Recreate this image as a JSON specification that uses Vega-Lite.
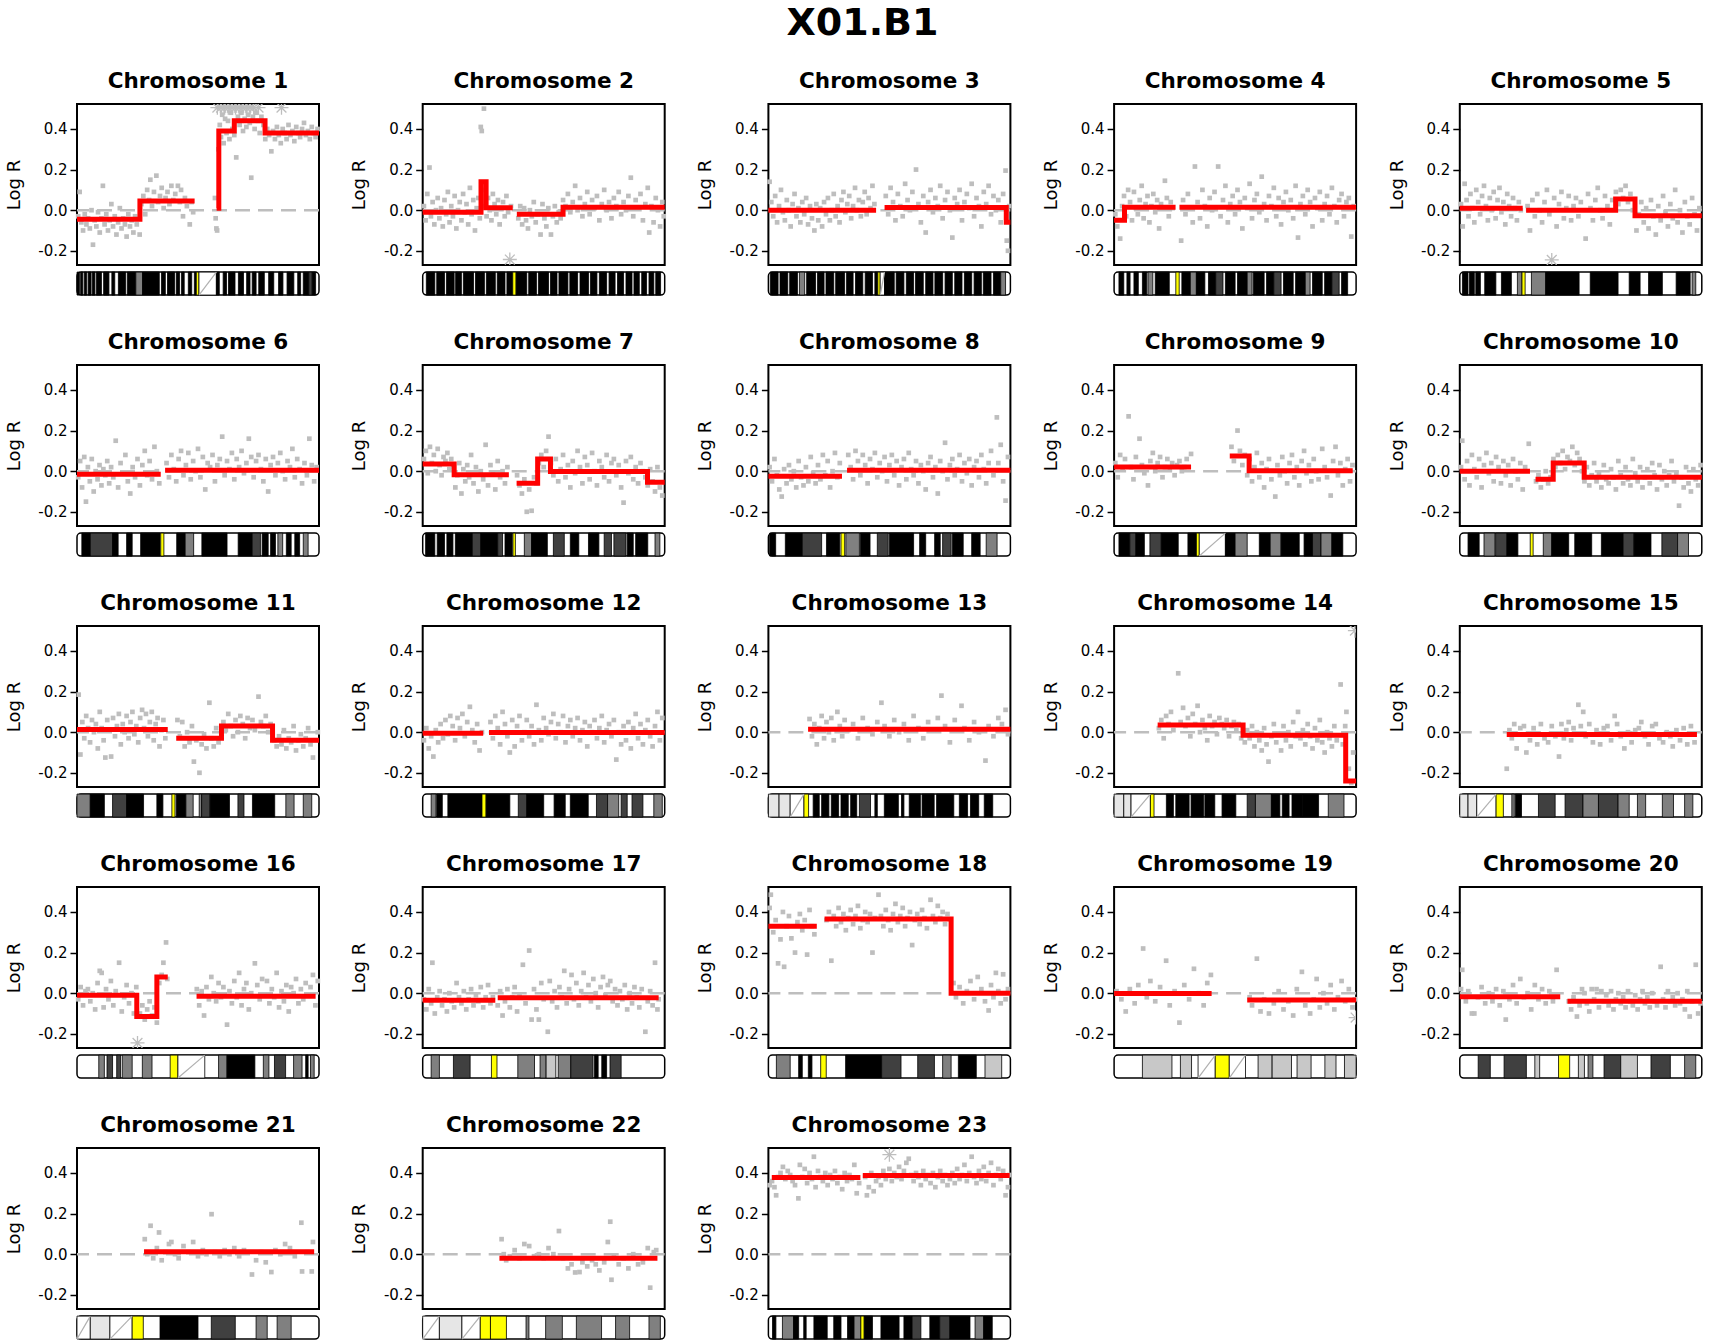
{
"$schema":"https://vega.github.io/schema/vega-lite/v6.json",
"background":"white",
"padding":{"left":4,"top":4,"right":10,"bottom":4},
"title":{"text":"X01.B1","font":"DejaVu Sans","fontSize":38,"fontWeight":"bold","color":"black","anchor":"middle","dx":4,"offset":27},
"data":{"values":[
{"c":1,"x":0,"x2":100,"t":"w"},{"c":1,"x":0,"x2":1,"t":"k"},{"c":1,"x":1.5,"x2":2.4,"t":"k"},{"c":1,"x":3,"x2":4,"t":"k"},{"c":1,"x":4.6,"x2":5.8,"t":"k"},{"c":1,"x":6.3,"x2":7.4,"t":"k"},{"c":1,"x":8,"x2":10.1,"t":"k"},{"c":1,"x":11,"x2":13.2,"t":"k"},{"c":1,"x":14.4,"x2":15.6,"t":"k"},{"c":1,"x":17.1,"x2":20.1,"t":"k"},{"c":1,"x":20.8,"x2":24.3,"t":"k"},{"c":1,"x":24.3,"x2":27.1,"t":"m"},{"c":1,"x":27.1,"x2":34,"t":"k"},{"c":1,"x":34.9,"x2":36.5,"t":"k"},{"c":1,"x":37.4,"x2":40.3,"t":"k"},{"c":1,"x":41,"x2":42.4,"t":"k"},{"c":1,"x":43.2,"x2":44.3,"t":"k"},{"c":1,"x":46,"x2":47.4,"t":"k"},{"c":1,"x":48.5,"x2":49.3,"t":"k"},{"c":1,"x":49.3,"x2":50.4,"t":"y"},{"c":1,"x":50.4,"x2":57.6,"t":"h"},{"c":1,"x":57.6,"x2":58.8,"t":"k"},{"c":1,"x":60.4,"x2":61.8,"t":"k"},{"c":1,"x":62.6,"x2":65.3,"t":"k"},{"c":1,"x":66.7,"x2":68.8,"t":"k"},{"c":1,"x":70.1,"x2":71.5,"t":"k"},{"c":1,"x":72.4,"x2":74,"t":"k"},{"c":1,"x":75.1,"x2":77.4,"t":"k"},{"c":1,"x":79.2,"x2":81.3,"t":"k"},{"c":1,"x":83.3,"x2":85.1,"t":"k"},{"c":1,"x":86.8,"x2":89.6,"t":"k"},{"c":1,"x":91.2,"x2":92.4,"t":"k"},{"c":1,"x":93.5,"x2":95.8,"t":"k"},{"c":1,"x":95.8,"x2":97.2,"t":"d"},{"c":1,"x":97.2,"x2":98.6,"t":"k"},
{"c":1,"a":1,"x":0,"s":-0.045},{"c":1,"a":1,"x":26,"s":0.045},{"c":1,"a":1,"x":48.6,"s":0.045},{"c":1,"a":2,"x":57.7,"s":0.01},{"c":1,"a":2,"x":58.6,"s":0.39},{"c":1,"a":2,"x":65,"s":0.44},{"c":1,"a":2,"x":77.7,"s":0.38},{"c":1,"a":2,"x":100,"s":0.38},
{"c":1,"x":0.5,"v":-0.03},{"c":1,"x":1.1,"v":0.09},{"c":1,"x":1.8,"v":-0.06},{"c":1,"x":2.5,"v":-0.1},{"c":1,"x":3.2,"v":-0.02},{"c":1,"x":3.9,"v":-0.07},{"c":1,"x":4.6,"v":-0.04},{"c":1,"x":5.3,"v":-0.09},{"c":1,"x":6,"v":0.0},{"c":1,"x":6.6,"v":-0.17},{"c":1,"x":7.3,"v":-0.05},{"c":1,"x":8,"v":-0.08},{"c":1,"x":8.7,"v":-0.01},{"c":1,"x":9.4,"v":-0.11},{"c":1,"x":10.1,"v":-0.04},{"c":1,"x":10.7,"v":0.12},{"c":1,"x":11.4,"v":-0.07},{"c":1,"x":12.1,"v":-0.02},{"c":1,"x":12.8,"v":-0.1},{"c":1,"x":13.5,"v":-0.05},{"c":1,"x":14.2,"v":0.03},{"c":1,"x":14.9,"v":-0.08},{"c":1,"x":15.6,"v":-0.03},{"c":1,"x":16.3,"v":-0.12},{"c":1,"x":17,"v":-0.06},{"c":1,"x":17.7,"v":0.01},{"c":1,"x":18.4,"v":-0.09},{"c":1,"x":19.1,"v":-0.04},{"c":1,"x":19.8,"v":-0.07},{"c":1,"x":20.5,"v":-0.13},{"c":1,"x":21.2,"v":-0.02},{"c":1,"x":21.9,"v":-0.08},{"c":1,"x":22.6,"v":-0.05},{"c":1,"x":23.3,"v":-0.11},{"c":1,"x":24,"v":-0.03},{"c":1,"x":24.7,"v":-0.07},{"c":1,"x":25.9,"v":-0.12},
{"c":1,"x":26.6,"v":0.03},{"c":1,"x":27.4,"v":0.07},{"c":1,"x":28.2,"v":-0.02},{"c":1,"x":29,"v":0.1},{"c":1,"x":29.8,"v":0.05},{"c":1,"x":30.3,"v":0.15},{"c":1,"x":31,"v":0.02},{"c":1,"x":31.8,"v":0.09},{"c":1,"x":32.8,"v":0.17},{"c":1,"x":33.5,"v":0.04},{"c":1,"x":34.3,"v":0.07},{"c":1,"x":35,"v":0.11},{"c":1,"x":35.8,"v":0.01},{"c":1,"x":36.6,"v":0.06},{"c":1,"x":37.4,"v":0.09},{"c":1,"x":38.2,"v":0.03},{"c":1,"x":39,"v":0.12},{"c":1,"x":39.8,"v":0.05},{"c":1,"x":40.6,"v":0.08},{"c":1,"x":41.7,"v":0.12},{"c":1,"x":42.5,"v":0.04},{"c":1,"x":43,"v":0.1},{"c":1,"x":43.8,"v":-0.03},{"c":1,"x":44.6,"v":0.06},{"c":1,"x":45.4,"v":0.02},{"c":1,"x":46.6,"v":-0.07},{"c":1,"x":47.4,"v":0.04},{"c":1,"x":48,"v":-0.01},
{"c":1,"x":57,"v":0.06},{"c":1,"x":57.3,"v":-0.04},{"c":1,"x":57.6,"v":-0.09},{"c":1,"x":57.9,"v":-0.1},{"c":1,"x":58.4,"v":0.3},{"c":1,"x":59,"v":0.42},{"c":1,"x":59.5,"v":0.36},{"c":1,"x":60,"v":0.47},{"c":1,"x":60.6,"v":0.33},{"c":1,"x":61.2,"v":0.45},{"c":1,"x":61.8,"v":0.38},{"c":1,"x":62.4,"v":0.44},{"c":1,"x":63,"v":0.35},{"c":1,"x":63.6,"v":0.48},{"c":1,"x":64.2,"v":0.4},{"c":1,"x":65,"v":0.37},{"c":1,"x":65.8,"v":0.26},{"c":1,"x":66.5,"v":0.46},{"c":1,"x":67.2,"v":0.42},{"c":1,"x":67.9,"v":0.48},{"c":1,"x":68.6,"v":0.39},{"c":1,"x":69.3,"v":0.45},{"c":1,"x":70,"v":0.41},{"c":1,"x":70.7,"v":0.47},{"c":1,"x":71.4,"v":0.43},{"c":1,"x":72,"v":0.16},{"c":1,"x":72.7,"v":0.46},{"c":1,"x":73.4,"v":0.4},{"c":1,"x":74.1,"v":0.48},{"c":1,"x":74.8,"v":0.44},{"c":1,"x":75.5,"v":0.38},{"c":1,"x":76.2,"v":0.46},{"c":1,"x":77,"v":0.42},{"c":1,"x":77.8,"v":0.35},{"c":1,"x":78.6,"v":0.4},{"c":1,"x":79.4,"v":0.37},{"c":1,"x":80.3,"v":0.29},{"c":1,"x":81,"v":0.39},{"c":1,"x":81.8,"v":0.35},{"c":1,"x":82.6,"v":0.41},{"c":1,"x":83.4,"v":0.37},{"c":1,"x":84.2,"v":0.33},{"c":1,"x":85,"v":0.4},{"c":1,"x":85.8,"v":0.38},{"c":1,"x":86.6,"v":0.35},{"c":1,"x":87.4,"v":0.42},{"c":1,"x":88.2,"v":0.37},{"c":1,"x":89,"v":0.39},{"c":1,"x":89.8,"v":0.34},{"c":1,"x":90.6,"v":0.41},{"c":1,"x":91.4,"v":0.38},{"c":1,"x":92.2,"v":0.36},{"c":1,"x":93,"v":0.4},{"c":1,"x":93.8,"v":0.43},{"c":1,"x":94.6,"v":0.37},{"c":1,"x":95.4,"v":0.39},{"c":1,"x":96.2,"v":0.35},{"c":1,"x":97,"v":0.41},{"c":1,"x":97.8,"v":0.38},{"c":1,"x":98.6,"v":0.36},{"c":1,"x":99.4,"v":0.4},
{"c":1,"x":58,"o":0.505},{"c":1,"x":59.5,"o":0.505},{"c":1,"x":61,"o":0.505},{"c":1,"x":62.5,"o":0.505},{"c":1,"x":64,"o":0.505},{"c":1,"x":65.5,"o":0.505},{"c":1,"x":67,"o":0.505},{"c":1,"x":68.5,"o":0.505},{"c":1,"x":70,"o":0.505},{"c":1,"x":71.5,"o":0.505},{"c":1,"x":73,"o":0.505},{"c":1,"x":75,"o":0.505},{"c":1,"x":84.5,"o":0.505},
{"c":2,"x":0,"x2":100,"t":"w"},{"c":2,"x":1.5,"x2":5,"t":"k"},{"c":2,"x":5.8,"x2":9,"t":"k"},{"c":2,"x":9.8,"x2":13,"t":"k"},{"c":2,"x":13.6,"x2":16,"t":"k"},{"c":2,"x":16.8,"x2":21,"t":"k"},{"c":2,"x":21.8,"x2":25.5,"t":"k"},{"c":2,"x":26.3,"x2":30,"t":"k"},{"c":2,"x":30.8,"x2":34,"t":"k"},{"c":2,"x":34.8,"x2":37.2,"t":"k"},{"c":2,"x":37.2,"x2":38.6,"t":"y"},{"c":2,"x":38.6,"x2":43,"t":"k"},{"c":2,"x":43.8,"x2":47,"t":"k"},{"c":2,"x":47.8,"x2":52,"t":"k"},{"c":2,"x":52.8,"x2":55.5,"t":"k"},{"c":2,"x":56.3,"x2":60,"t":"k"},{"c":2,"x":60.8,"x2":64,"t":"k"},{"c":2,"x":65,"x2":68.5,"t":"k"},{"c":2,"x":69.3,"x2":72,"t":"k"},{"c":2,"x":73,"x2":76,"t":"k"},{"c":2,"x":77,"x2":79.5,"t":"k"},{"c":2,"x":80.5,"x2":83,"t":"k"},{"c":2,"x":84,"x2":86.5,"t":"k"},{"c":2,"x":87.3,"x2":89.5,"t":"k"},{"c":2,"x":90.5,"x2":92.5,"t":"k"},{"c":2,"x":93.5,"x2":95.5,"t":"k"},{"c":2,"x":96.3,"x2":98.3,"t":"k"},
{"c":2,"a":1,"x":0,"s":-0.01},{"c":2,"a":1,"x":24.1,"s":0.14},{"c":2,"a":1,"x":26.2,"s":0.012},{"c":2,"a":1,"x":37.2,"s":0.012},{"c":2,"a":2,"x":38.9,"s":-0.02},{"c":2,"a":2,"x":58,"s":0.015},{"c":2,"a":2,"x":100,"s":0.015},
{"c":2,"x":0.5,"v":0.02},{"c":2,"x":1.2,"v":-0.05},{"c":2,"x":1.9,"v":0.08},{"c":2,"x":2.8,"v":0.21},{"c":2,"x":3.4,"v":-0.03},{"c":2,"x":4.1,"v":0.04},{"c":2,"x":4.8,"v":-0.07},{"c":2,"x":5.5,"v":0.0},{"c":2,"x":6.2,"v":0.06},{"c":2,"x":6.9,"v":-0.04},{"c":2,"x":7.6,"v":0.01},{"c":2,"x":8.3,"v":-0.08},{"c":2,"x":9,"v":0.05},{"c":2,"x":9.7,"v":-0.02},{"c":2,"x":10.4,"v":0.09},{"c":2,"x":11.1,"v":-0.06},{"c":2,"x":11.8,"v":0.02},{"c":2,"x":12.5,"v":-0.03},{"c":2,"x":13.2,"v":0.07},{"c":2,"x":13.9,"v":-0.09},{"c":2,"x":14.6,"v":0.0},{"c":2,"x":15.3,"v":0.04},{"c":2,"x":16,"v":-0.05},{"c":2,"x":16.7,"v":0.08},{"c":2,"x":17.4,"v":-0.01},{"c":2,"x":18.1,"v":0.03},{"c":2,"x":18.8,"v":-0.07},{"c":2,"x":19.5,"v":0.11},{"c":2,"x":20.2,"v":-0.02},{"c":2,"x":20.9,"v":0.05},{"c":2,"x":21.6,"v":-0.1},{"c":2,"x":22.3,"v":0.01},{"c":2,"x":23,"v":0.06},{"c":2,"x":23.6,"v":-0.04},{"c":2,"x":24,"v":0.41},{"c":2,"x":24.4,"v":0.39},{"c":2,"x":24.8,"v":0.02},{"c":2,"x":25.3,"v":0.5},{"c":2,"x":25.8,"v":0.1},{"c":2,"x":26.4,"v":-0.03},{"c":2,"x":27,"v":0.06},{"c":2,"x":27.7,"v":0.0},{"c":2,"x":28.4,"v":-0.05},{"c":2,"x":29,"v":0.08},{"c":2,"x":29.7,"v":0.03},{"c":2,"x":30.4,"v":-0.02},{"c":2,"x":31.1,"v":0.05},{"c":2,"x":31.8,"v":-0.07},{"c":2,"x":32.5,"v":0.01},{"c":2,"x":33.2,"v":0.04},{"c":2,"x":33.9,"v":-0.03},{"c":2,"x":34.6,"v":0.07},{"c":2,"x":35.3,"v":-0.01},{"c":2,"x":36.5,"v":0.02},
{"c":2,"x":39.5,"v":-0.04},{"c":2,"x":40.3,"v":0.02},{"c":2,"x":41.1,"v":-0.07},{"c":2,"x":41.9,"v":0.01},{"c":2,"x":42.7,"v":-0.05},{"c":2,"x":43.5,"v":-0.09},{"c":2,"x":44.3,"v":0.0},{"c":2,"x":45.1,"v":-0.03},{"c":2,"x":45.9,"v":0.04},{"c":2,"x":46.7,"v":-0.06},{"c":2,"x":47.5,"v":-0.02},{"c":2,"x":48.7,"v":-0.12},{"c":2,"x":49.5,"v":0.03},{"c":2,"x":50.3,"v":-0.04},{"c":2,"x":51.1,"v":-0.08},{"c":2,"x":51.9,"v":0.01},{"c":2,"x":53,"v":-0.12},{"c":2,"x":53.8,"v":-0.03},{"c":2,"x":54.6,"v":0.02},{"c":2,"x":55.4,"v":-0.06},{"c":2,"x":56.2,"v":-0.01},{"c":2,"x":57,"v":-0.04},{"c":2,"x":58,"v":0.05},{"c":2,"x":59,"v":0.02},{"c":2,"x":60,"v":0.08},{"c":2,"x":61,"v":-0.01},{"c":2,"x":62,"v":0.04},{"c":2,"x":63,"v":0.12},{"c":2,"x":64,"v":0.0},{"c":2,"x":65,"v":0.06},{"c":2,"x":66,"v":-0.03},{"c":2,"x":67,"v":0.03},{"c":2,"x":68,"v":0.09},{"c":2,"x":69,"v":-0.02},{"c":2,"x":70,"v":0.05},{"c":2,"x":71,"v":0.01},{"c":2,"x":72,"v":0.07},{"c":2,"x":73,"v":-0.05},{"c":2,"x":74,"v":0.03},{"c":2,"x":75,"v":0.1},{"c":2,"x":76,"v":0.0},{"c":2,"x":77,"v":0.04},{"c":2,"x":78,"v":-0.04},{"c":2,"x":79,"v":0.06},{"c":2,"x":80,"v":0.02},{"c":2,"x":81,"v":0.09},{"c":2,"x":82,"v":-0.02},{"c":2,"x":83,"v":0.04},{"c":2,"x":84,"v":0.0},{"c":2,"x":85,"v":0.07},{"c":2,"x":86,"v":0.16},{"c":2,"x":87,"v":-0.03},{"c":2,"x":88,"v":0.05},{"c":2,"x":89,"v":0.01},{"c":2,"x":90,"v":0.08},{"c":2,"x":91,"v":-0.05},{"c":2,"x":92,"v":0.03},{"c":2,"x":93,"v":0.11},{"c":2,"x":93.6,"v":-0.11},{"c":2,"x":94.5,"v":0.02},{"c":2,"x":95.4,"v":-0.06},{"c":2,"x":96.3,"v":0.06},{"c":2,"x":97.2,"v":0.0},{"c":2,"x":98.1,"v":-0.08},{"c":2,"x":99,"v":0.04},{"c":2,"x":99.6,"v":-0.03},
{"c":2,"x":36,"o":-0.243},
{"c":3,"x":0,"x2":100,"t":"w"},{"c":3,"x":0.8,"x2":4,"t":"k"},{"c":3,"x":4.8,"x2":8,"t":"k"},{"c":3,"x":8.8,"x2":12,"t":"k"},{"c":3,"x":12.8,"x2":15,"t":"m"},{"c":3,"x":15.8,"x2":19.5,"t":"k"},{"c":3,"x":20.3,"x2":23,"t":"k"},{"c":3,"x":23.8,"x2":27,"t":"k"},{"c":3,"x":27.8,"x2":31.5,"t":"k"},{"c":3,"x":32.3,"x2":35,"t":"k"},{"c":3,"x":36,"x2":39,"t":"k"},{"c":3,"x":40,"x2":43,"t":"k"},{"c":3,"x":44,"x2":45.2,"t":"k"},{"c":3,"x":45.2,"x2":46.2,"t":"y"},{"c":3,"x":46.2,"x2":48,"t":"h"},{"c":3,"x":48,"x2":52,"t":"k"},{"c":3,"x":52.8,"x2":56,"t":"k"},{"c":3,"x":57,"x2":60,"t":"k"},{"c":3,"x":60.8,"x2":64,"t":"k"},{"c":3,"x":65,"x2":68,"t":"k"},{"c":3,"x":68.8,"x2":72,"t":"k"},{"c":3,"x":73,"x2":76,"t":"k"},{"c":3,"x":77,"x2":80,"t":"k"},{"c":3,"x":81,"x2":84,"t":"k"},{"c":3,"x":85,"x2":88,"t":"k"},{"c":3,"x":88.8,"x2":92,"t":"k"},{"c":3,"x":93,"x2":96,"t":"k"},{"c":3,"x":96,"x2":98,"t":"m"},
{"c":3,"a":1,"x":0,"s":0.0},{"c":3,"a":1,"x":44.5,"s":0.0},{"c":3,"a":2,"x":48,"s":0.013},{"c":3,"a":2,"x":98.3,"s":-0.06},{"c":3,"a":2,"x":100,"s":-0.06},
{"c":3,"x":0.5,"v":0.14},{"c":3,"x":1.2,"v":0.04},{"c":3,"x":2,"v":-0.03},{"c":3,"x":2.8,"v":0.07},{"c":3,"x":3.6,"v":-0.06},{"c":3,"x":4.4,"v":0.02},{"c":3,"x":5.2,"v":0.1},{"c":3,"x":6,"v":-0.01},{"c":3,"x":6.8,"v":-0.05},{"c":3,"x":7.6,"v":0.05},{"c":3,"x":8.4,"v":0.0},{"c":3,"x":9.2,"v":-0.08},{"c":3,"x":10,"v":0.03},{"c":3,"x":10.8,"v":0.08},{"c":3,"x":11.6,"v":-0.03},{"c":3,"x":12.4,"v":0.01},{"c":3,"x":13.2,"v":-0.06},{"c":3,"x":14,"v":0.04},{"c":3,"x":14.8,"v":-0.02},{"c":3,"x":15.6,"v":0.06},{"c":3,"x":16.4,"v":-0.07},{"c":3,"x":17.2,"v":0.02},{"c":3,"x":18,"v":-0.04},{"c":3,"x":19,"v":-0.1},{"c":3,"x":19.8,"v":0.03},{"c":3,"x":20.6,"v":-0.05},{"c":3,"x":21.4,"v":0.01},{"c":3,"x":22.2,"v":-0.08},{"c":3,"x":23,"v":0.04},{"c":3,"x":23.8,"v":-0.02},{"c":3,"x":24.6,"v":0.06},{"c":3,"x":25.4,"v":-0.05},{"c":3,"x":26.2,"v":0.0},{"c":3,"x":27,"v":0.08},{"c":3,"x":27.8,"v":-0.03},{"c":3,"x":28.6,"v":0.02},{"c":3,"x":29.4,"v":-0.06},{"c":3,"x":30.2,"v":0.05},{"c":3,"x":31,"v":0.09},{"c":3,"x":31.8,"v":-0.01},{"c":3,"x":32.6,"v":0.03},{"c":3,"x":33.4,"v":0.07},{"c":3,"x":34.2,"v":-0.04},{"c":3,"x":35,"v":0.02},{"c":3,"x":35.8,"v":0.11},{"c":3,"x":36.6,"v":0.0},{"c":3,"x":37.4,"v":0.05},{"c":3,"x":38.2,"v":-0.03},{"c":3,"x":39,"v":0.04},{"c":3,"x":39.8,"v":0.09},{"c":3,"x":40.6,"v":-0.02},{"c":3,"x":41.4,"v":0.06},{"c":3,"x":42.2,"v":0.01},{"c":3,"x":43,"v":0.12},{"c":3,"x":43.8,"v":0.03},
{"c":3,"x":48.5,"v":0.07},{"c":3,"x":49.5,"v":-0.02},{"c":3,"x":50.5,"v":0.11},{"c":3,"x":51.5,"v":0.04},{"c":3,"x":52.5,"v":-0.05},{"c":3,"x":53.5,"v":0.08},{"c":3,"x":54.5,"v":0.02},{"c":3,"x":55.5,"v":-0.03},{"c":3,"x":56.5,"v":0.13},{"c":3,"x":57.5,"v":0.05},{"c":3,"x":58.5,"v":0.0},{"c":3,"x":59.5,"v":0.09},{"c":3,"x":61,"v":0.2},{"c":3,"x":62,"v":0.03},{"c":3,"x":63,"v":-0.06},{"c":3,"x":64,"v":0.07},{"c":3,"x":65,"v":-0.11},{"c":3,"x":66,"v":0.04},{"c":3,"x":67,"v":0.1},{"c":3,"x":68,"v":-0.01},{"c":3,"x":69,"v":0.06},{"c":3,"x":70,"v":0.02},{"c":3,"x":71,"v":0.12},{"c":3,"x":72,"v":-0.04},{"c":3,"x":73,"v":0.05},{"c":3,"x":74,"v":0.09},{"c":3,"x":75,"v":0.0},{"c":3,"x":76,"v":-0.135},{"c":3,"x":77,"v":0.06},{"c":3,"x":78,"v":0.03},{"c":3,"x":79,"v":0.1},{"c":3,"x":80,"v":-0.05},{"c":3,"x":81,"v":0.04},{"c":3,"x":82,"v":0.08},{"c":3,"x":83,"v":0.01},{"c":3,"x":84,"v":0.13},{"c":3,"x":85,"v":-0.03},{"c":3,"x":86,"v":0.06},{"c":3,"x":87,"v":0.02},{"c":3,"x":88,"v":-0.08},{"c":3,"x":89,"v":0.09},{"c":3,"x":90,"v":0.03},{"c":3,"x":91,"v":0.12},{"c":3,"x":92,"v":-0.02},{"c":3,"x":93,"v":0.07},{"c":3,"x":94,"v":0.0},{"c":3,"x":95,"v":0.05},{"c":3,"x":96,"v":-0.06},{"c":3,"x":97,"v":0.08},{"c":3,"x":98,"v":0.195},{"c":3,"x":98.5,"v":-0.15},{"c":3,"x":99,"v":-0.2},{"c":3,"x":99.5,"v":0.02},
{"c":4,"x":0,"x2":100,"t":"w"},{"c":4,"x":2,"x2":4,"t":"k"},{"c":4,"x":5.3,"x2":6.6,"t":"k"},{"c":4,"x":8.2,"x2":10,"t":"k"},{"c":4,"x":11.7,"x2":13.5,"t":"k"},{"c":4,"x":14,"x2":16,"t":"m"},{"c":4,"x":17,"x2":22.8,"t":"k"},{"c":4,"x":25.5,"x2":26.9,"t":"y"},{"c":4,"x":28,"x2":31.5,"t":"k"},{"c":4,"x":31.5,"x2":34,"t":"m"},{"c":4,"x":34,"x2":37.5,"t":"k"},{"c":4,"x":39,"x2":42,"t":"k"},{"c":4,"x":42,"x2":45,"t":"d"},{"c":4,"x":46,"x2":50,"t":"k"},{"c":4,"x":51,"x2":55,"t":"k"},{"c":4,"x":55,"x2":57,"t":"m"},{"c":4,"x":57.5,"x2":62,"t":"k"},{"c":4,"x":63,"x2":66,"t":"k"},{"c":4,"x":66,"x2":69,"t":"d"},{"c":4,"x":70,"x2":74,"t":"k"},{"c":4,"x":75,"x2":79,"t":"k"},{"c":4,"x":79,"x2":81,"t":"m"},{"c":4,"x":82,"x2":86,"t":"k"},{"c":4,"x":87,"x2":90,"t":"k"},{"c":4,"x":90,"x2":93,"t":"d"},{"c":4,"x":94,"x2":96.5,"t":"k"},
{"c":4,"a":1,"x":0,"s":-0.05},{"c":4,"a":1,"x":4.3,"s":0.015},{"c":4,"a":1,"x":25.4,"s":0.015},{"c":4,"a":2,"x":27,"s":0.015},{"c":4,"a":2,"x":100,"s":0.015},
{"c":4,"x":0.5,"v":-0.02},{"c":4,"x":1.3,"v":-0.08},{"c":4,"x":2.5,"v":-0.14},{"c":4,"x":3.3,"v":0.02},{"c":4,"x":4.1,"v":0.07},{"c":4,"x":5,"v":-0.03},{"c":4,"x":5.8,"v":0.1},{"c":4,"x":6.6,"v":0.04},{"c":4,"x":7.4,"v":-0.05},{"c":4,"x":8.2,"v":0.09},{"c":4,"x":9,"v":0.01},{"c":4,"x":9.8,"v":-0.02},{"c":4,"x":10.6,"v":0.05},{"c":4,"x":11.4,"v":0.12},{"c":4,"x":12.2,"v":-0.04},{"c":4,"x":13,"v":0.03},{"c":4,"x":13.8,"v":0.07},{"c":4,"x":14.6,"v":-0.06},{"c":4,"x":15.4,"v":0.02},{"c":4,"x":16.2,"v":0.08},{"c":4,"x":17,"v":-0.01},{"c":4,"x":17.8,"v":0.05},{"c":4,"x":18.6,"v":-0.09},{"c":4,"x":19.4,"v":0.03},{"c":4,"x":21,"v":0.145},{"c":4,"x":21.8,"v":0.06},{"c":4,"x":22.6,"v":-0.03},{"c":4,"x":23.4,"v":0.04},{"c":4,"x":24.2,"v":0.01},
{"c":4,"x":27.7,"v":-0.15},{"c":4,"x":28.5,"v":0.05},{"c":4,"x":29.5,"v":-0.02},{"c":4,"x":30.5,"v":0.08},{"c":4,"x":31.5,"v":0.01},{"c":4,"x":32.5,"v":-0.06},{"c":4,"x":33.4,"v":0.215},{"c":4,"x":34.5,"v":0.04},{"c":4,"x":35.5,"v":-0.04},{"c":4,"x":36.5,"v":0.1},{"c":4,"x":37.5,"v":0.02},{"c":4,"x":38.5,"v":-0.08},{"c":4,"x":39.5,"v":0.06},{"c":4,"x":40.5,"v":0.0},{"c":4,"x":41.5,"v":0.09},{"c":4,"x":43,"v":0.215},{"c":4,"x":44,"v":-0.03},{"c":4,"x":45,"v":0.05},{"c":4,"x":46,"v":0.12},{"c":4,"x":47,"v":-0.06},{"c":4,"x":48,"v":0.03},{"c":4,"x":49,"v":0.07},{"c":4,"x":50,"v":-0.02},{"c":4,"x":51,"v":0.1},{"c":4,"x":52,"v":0.04},{"c":4,"x":53,"v":-0.09},{"c":4,"x":54,"v":0.06},{"c":4,"x":55,"v":0.01},{"c":4,"x":56,"v":0.13},{"c":4,"x":57,"v":-0.04},{"c":4,"x":58,"v":0.05},{"c":4,"x":59,"v":0.08},{"c":4,"x":60,"v":-0.01},{"c":4,"x":61,"v":0.165},{"c":4,"x":62,"v":0.03},{"c":4,"x":63,"v":-0.05},{"c":4,"x":64,"v":0.07},{"c":4,"x":65,"v":0.02},{"c":4,"x":66,"v":0.11},{"c":4,"x":67,"v":-0.03},{"c":4,"x":68,"v":0.06},{"c":4,"x":69,"v":-0.07},{"c":4,"x":70,"v":0.04},{"c":4,"x":71,"v":0.09},{"c":4,"x":72,"v":0.0},{"c":4,"x":73,"v":0.05},{"c":4,"x":74,"v":-0.04},{"c":4,"x":75,"v":0.12},{"c":4,"x":76,"v":-0.135},{"c":4,"x":77,"v":0.03},{"c":4,"x":78,"v":0.07},{"c":4,"x":79,"v":-0.02},{"c":4,"x":80,"v":0.1},{"c":4,"x":81,"v":0.04},{"c":4,"x":82,"v":-0.08},{"c":4,"x":83,"v":0.06},{"c":4,"x":84,"v":0.01},{"c":4,"x":85,"v":0.09},{"c":4,"x":86,"v":-0.05},{"c":4,"x":87,"v":0.03},{"c":4,"x":88,"v":0.07},{"c":4,"x":89,"v":-0.02},{"c":4,"x":90,"v":0.11},{"c":4,"x":91,"v":0.02},{"c":4,"x":92,"v":-0.06},{"c":4,"x":93,"v":0.05},{"c":4,"x":94,"v":0.08},{"c":4,"x":95,"v":-0.03},{"c":4,"x":96,"v":0.04},{"c":4,"x":97,"v":0.06},{"c":4,"x":98,"v":-0.13},{"c":4,"x":99,"v":0.02},
{"c":5,"x":0,"x2":100,"t":"w"},{"c":5,"x":1.1,"x2":3.4,"t":"k"},{"c":5,"x":4,"x2":6,"t":"k"},{"c":5,"x":6.6,"x2":8.5,"t":"k"},{"c":5,"x":10.3,"x2":14.9,"t":"k"},{"c":5,"x":17.2,"x2":21.3,"t":"k"},{"c":5,"x":23.8,"x2":25.7,"t":"m"},{"c":5,"x":25.7,"x2":27,"t":"y"},{"c":5,"x":29.6,"x2":35.5,"t":"m"},{"c":5,"x":35.5,"x2":49.3,"t":"k"},{"c":5,"x":53.9,"x2":65.4,"t":"k"},{"c":5,"x":70,"x2":74.5,"t":"k"},{"c":5,"x":78,"x2":83.7,"t":"k"},{"c":5,"x":89.4,"x2":95.2,"t":"k"},{"c":5,"x":96,"x2":97.5,"t":"m"},
{"c":5,"a":1,"x":0,"s":0.01},{"c":5,"a":1,"x":26,"s":0.01},{"c":5,"a":2,"x":27.4,"s":0.0},{"c":5,"a":2,"x":64.4,"s":0.055},{"c":5,"a":2,"x":72.4,"s":-0.028},{"c":5,"a":2,"x":100,"s":-0.028},
{"c":5,"x":0.5,"v":0.03},{"c":5,"x":1.2,"v":-0.08},{"c":5,"x":2,"v":0.13},{"c":5,"x":2.8,"v":0.05},{"c":5,"x":3.6,"v":-0.03},{"c":5,"x":4.4,"v":0.08},{"c":5,"x":5.2,"v":0.01},{"c":5,"x":6,"v":-0.06},{"c":5,"x":6.8,"v":0.1},{"c":5,"x":7.6,"v":0.04},{"c":5,"x":8.4,"v":-0.02},{"c":5,"x":9.2,"v":0.07},{"c":5,"x":10,"v":0.12},{"c":5,"x":10.8,"v":0.02},{"c":5,"x":11.6,"v":-0.05},{"c":5,"x":12.4,"v":0.06},{"c":5,"x":13.2,"v":0.0},{"c":5,"x":14,"v":0.09},{"c":5,"x":14.8,"v":-0.04},{"c":5,"x":15.6,"v":0.05},{"c":5,"x":16.4,"v":0.11},{"c":5,"x":17.2,"v":-0.01},{"c":5,"x":18,"v":0.04},{"c":5,"x":18.8,"v":-0.07},{"c":5,"x":19.6,"v":0.08},{"c":5,"x":20.4,"v":0.02},{"c":5,"x":21.2,"v":-0.03},{"c":5,"x":22,"v":0.06},{"c":5,"x":22.8,"v":0.01},{"c":5,"x":23.6,"v":-0.05},{"c":5,"x":24.4,"v":0.04},{"c":5,"x":25.2,"v":0.0},
{"c":5,"x":28,"v":0.02},{"c":5,"x":29,"v":-0.1},{"c":5,"x":30,"v":0.05},{"c":5,"x":31,"v":-0.03},{"c":5,"x":32,"v":0.08},{"c":5,"x":33,"v":0.0},{"c":5,"x":34,"v":-0.06},{"c":5,"x":35,"v":0.04},{"c":5,"x":36,"v":0.1},{"c":5,"x":37,"v":-0.02},{"c":5,"x":39,"v":0.06},{"c":5,"x":40,"v":-0.08},{"c":5,"x":41,"v":0.03},{"c":5,"x":42,"v":0.09},{"c":5,"x":43,"v":-0.04},{"c":5,"x":44,"v":0.01},{"c":5,"x":45,"v":0.07},{"c":5,"x":46,"v":-0.05},{"c":5,"x":47,"v":0.02},{"c":5,"x":48,"v":0.06},{"c":5,"x":49,"v":-0.03},{"c":5,"x":50,"v":0.04},{"c":5,"x":52,"v":-0.14},{"c":5,"x":53,"v":0.08},{"c":5,"x":54,"v":0.01},{"c":5,"x":55,"v":-0.05},{"c":5,"x":56,"v":0.05},{"c":5,"x":57,"v":0.11},{"c":5,"x":58,"v":0.0},{"c":5,"x":59,"v":-0.04},{"c":5,"x":60,"v":0.07},{"c":5,"x":61,"v":0.02},{"c":5,"x":62,"v":-0.07},{"c":5,"x":63,"v":0.05},{"c":5,"x":64.5,"v":0.09},{"c":5,"x":65.5,"v":0.03},{"c":5,"x":66.5,"v":0.1},{"c":5,"x":67.5,"v":0.06},{"c":5,"x":68.5,"v":0.12},{"c":5,"x":69.5,"v":0.04},{"c":5,"x":70.5,"v":0.08},{"c":5,"x":71.5,"v":0.0},{"c":5,"x":73,"v":-0.1},{"c":5,"x":74,"v":-0.02},{"c":5,"x":75,"v":0.04},{"c":5,"x":76,"v":-0.06},{"c":5,"x":77,"v":0.01},{"c":5,"x":78,"v":-0.09},{"c":5,"x":79,"v":0.05},{"c":5,"x":80,"v":-0.03},{"c":5,"x":81,"v":-0.12},{"c":5,"x":82,"v":0.02},{"c":5,"x":83,"v":-0.05},{"c":5,"x":84,"v":0.07},{"c":5,"x":85,"v":-0.01},{"c":5,"x":86,"v":-0.08},{"c":5,"x":87,"v":0.03},{"c":5,"x":88,"v":-0.04},{"c":5,"x":89,"v":0.1},{"c":5,"x":90,"v":-0.06},{"c":5,"x":91,"v":0.0},{"c":5,"x":92,"v":-0.11},{"c":5,"x":93,"v":0.04},{"c":5,"x":94,"v":-0.03},{"c":5,"x":95,"v":-0.07},{"c":5,"x":96,"v":0.06},{"c":5,"x":97,"v":-0.02},{"c":5,"x":98,"v":-0.1},{"c":5,"x":99,"v":0.01},
{"c":5,"x":38,"o":-0.245},
{"c":6,"x":0,"x2":100,"t":"w"},{"c":6,"x":2,"x2":5.5,"t":"k"},{"c":6,"x":5.5,"x2":14.7,"t":"d"},{"c":6,"x":14.7,"x2":17,"t":"k"},{"c":6,"x":20.5,"x2":22.8,"t":"k"},{"c":6,"x":26.3,"x2":34.3,"t":"k"},{"c":6,"x":34.6,"x2":35.9,"t":"y"},{"c":6,"x":41.2,"x2":44.7,"t":"k"},{"c":6,"x":44.7,"x2":48.2,"t":"m"},{"c":6,"x":51.6,"x2":62,"t":"k"},{"c":6,"x":66.6,"x2":72.4,"t":"k"},{"c":6,"x":72.4,"x2":75.8,"t":"d"},{"c":6,"x":76.5,"x2":79,"t":"k"},{"c":6,"x":80,"x2":82,"t":"k"},{"c":6,"x":83,"x2":85,"t":"m"},{"c":6,"x":86.5,"x2":88.5,"t":"k"},{"c":6,"x":90,"x2":92,"t":"k"},{"c":6,"x":93.5,"x2":95.5,"t":"m"},
{"c":6,"a":1,"x":0,"s":-0.015},{"c":6,"a":1,"x":34.6,"s":-0.015},{"c":6,"a":2,"x":36.4,"s":0.005},{"c":6,"a":2,"x":100,"s":0.005},
{"c":6,"x":0.5,"v":-0.03},{"c":6,"x":1.3,"v":0.05},{"c":6,"x":2.1,"v":-0.08},{"c":6,"x":3,"v":0.07},{"c":6,"x":3.7,"v":-0.15},{"c":6,"x":4.5,"v":0.02},{"c":6,"x":5.3,"v":-0.05},{"c":6,"x":6.1,"v":0.06},{"c":6,"x":6.9,"v":-0.1},{"c":6,"x":7.7,"v":0.0},{"c":6,"x":8.5,"v":-0.04},{"c":6,"x":9.3,"v":0.03},{"c":6,"x":10.1,"v":-0.07},{"c":6,"x":10.9,"v":0.01},{"c":6,"x":11.7,"v":-0.02},{"c":6,"x":12.5,"v":0.05},{"c":6,"x":13.3,"v":-0.06},{"c":6,"x":14.1,"v":0.02},{"c":6,"x":15,"v":-0.03},{"c":6,"x":16,"v":0.15},{"c":6,"x":17,"v":-0.08},{"c":6,"x":18,"v":0.04},{"c":6,"x":19,"v":-0.01},{"c":6,"x":20,"v":0.08},{"c":6,"x":21,"v":-0.05},{"c":6,"x":22,"v":-0.11},{"c":6,"x":23,"v":0.02},{"c":6,"x":24,"v":-0.03},{"c":6,"x":25,"v":0.06},{"c":6,"x":26,"v":-0.07},{"c":6,"x":27,"v":0.03},{"c":6,"x":28,"v":0.1},{"c":6,"x":29,"v":-0.02},{"c":6,"x":30,"v":0.05},{"c":6,"x":31,"v":-0.04},{"c":6,"x":32,"v":0.12},{"c":6,"x":33,"v":0.0},{"c":6,"x":34,"v":-0.06},
{"c":6,"x":37,"v":0.04},{"c":6,"x":38,"v":-0.03},{"c":6,"x":39,"v":0.08},{"c":6,"x":40,"v":0.01},{"c":6,"x":41,"v":-0.05},{"c":6,"x":42,"v":0.06},{"c":6,"x":43,"v":0.1},{"c":6,"x":44,"v":-0.02},{"c":6,"x":45,"v":0.03},{"c":6,"x":46,"v":0.09},{"c":6,"x":47,"v":-0.04},{"c":6,"x":48,"v":0.05},{"c":6,"x":49,"v":0.0},{"c":6,"x":50,"v":0.11},{"c":6,"x":51,"v":-0.03},{"c":6,"x":52,"v":0.07},{"c":6,"x":53,"v":-0.09},{"c":6,"x":54,"v":0.04},{"c":6,"x":55,"v":0.02},{"c":6,"x":56,"v":0.08},{"c":6,"x":57,"v":-0.05},{"c":6,"x":58,"v":0.03},{"c":6,"x":59,"v":0.06},{"c":6,"x":60,"v":0.17},{"c":6,"x":61,"v":-0.02},{"c":6,"x":62,"v":0.05},{"c":6,"x":63,"v":0.01},{"c":6,"x":64,"v":0.09},{"c":6,"x":65,"v":-0.04},{"c":6,"x":66,"v":0.06},{"c":6,"x":67,"v":0.02},{"c":6,"x":68,"v":0.1},{"c":6,"x":69,"v":-0.01},{"c":6,"x":70,"v":0.04},{"c":6,"x":71,"v":0.16},{"c":6,"x":72,"v":0.07},{"c":6,"x":73,"v":-0.03},{"c":6,"x":74,"v":0.05},{"c":6,"x":75,"v":0.08},{"c":6,"x":76,"v":0.01},{"c":6,"x":77,"v":-0.05},{"c":6,"x":78,"v":0.06},{"c":6,"x":79,"v":-0.1},{"c":6,"x":80,"v":0.03},{"c":6,"x":81,"v":0.07},{"c":6,"x":82,"v":-0.02},{"c":6,"x":83,"v":0.04},{"c":6,"x":84,"v":0.09},{"c":6,"x":85,"v":0.0},{"c":6,"x":86,"v":-0.04},{"c":6,"x":87,"v":0.05},{"c":6,"x":88,"v":0.02},{"c":6,"x":89,"v":0.11},{"c":6,"x":90,"v":-0.03},{"c":6,"x":91,"v":0.06},{"c":6,"x":92,"v":0.01},{"c":6,"x":93,"v":-0.06},{"c":6,"x":94,"v":0.04},{"c":6,"x":95,"v":-0.02},{"c":6,"x":96,"v":0.16},{"c":6,"x":97,"v":0.03},{"c":6,"x":98,"v":-0.05},{"c":6,"x":99,"v":0.02},
{"c":7,"x":0,"x2":100,"t":"w"},{"c":7,"x":1.2,"x2":5,"t":"k"},{"c":7,"x":6,"x2":9,"t":"k"},{"c":7,"x":10,"x2":12.5,"t":"k"},{"c":7,"x":13.5,"x2":20.5,"t":"k"},{"c":7,"x":20.5,"x2":24,"t":"d"},{"c":7,"x":24,"x2":31,"t":"k"},{"c":7,"x":31,"x2":33,"t":"d"},{"c":7,"x":34,"x2":37,"t":"k"},{"c":7,"x":37.3,"x2":38.3,"t":"y"},{"c":7,"x":42,"x2":45,"t":"m"},{"c":7,"x":45,"x2":51.5,"t":"k"},{"c":7,"x":54,"x2":58.5,"t":"d"},{"c":7,"x":61,"x2":64.5,"t":"k"},{"c":7,"x":68.5,"x2":72.8,"t":"k"},{"c":7,"x":75,"x2":78,"t":"d"},{"c":7,"x":79,"x2":84,"t":"d"},{"c":7,"x":84.5,"x2":87,"t":"k"},{"c":7,"x":88,"x2":93,"t":"k"},{"c":7,"x":96,"x2":98,"t":"m"},
{"c":7,"a":1,"x":0,"s":0.035},{"c":7,"a":1,"x":13,"s":-0.018},{"c":7,"a":1,"x":35.6,"s":-0.018},{"c":7,"a":2,"x":38.8,"s":-0.06},{"c":7,"a":2,"x":47.5,"s":0.06},{"c":7,"a":2,"x":52.8,"s":-0.002},{"c":7,"a":2,"x":92.9,"s":-0.055},{"c":7,"a":2,"x":100,"s":-0.055},
{"c":7,"x":0.5,"v":0.06},{"c":7,"x":1.3,"v":0.1},{"c":7,"x":2.1,"v":-0.01},{"c":7,"x":3,"v":0.12},{"c":7,"x":3.8,"v":0.04},{"c":7,"x":4.6,"v":0.08},{"c":7,"x":5.4,"v":0.0},{"c":7,"x":6.2,"v":0.11},{"c":7,"x":7,"v":0.03},{"c":7,"x":7.8,"v":-0.02},{"c":7,"x":8.6,"v":0.07},{"c":7,"x":9.4,"v":0.05},{"c":7,"x":10.2,"v":0.09},{"c":7,"x":11,"v":0.01},{"c":7,"x":11.8,"v":0.06},{"c":7,"x":12.6,"v":0.02},{"c":7,"x":13.5,"v":-0.08},{"c":7,"x":14.3,"v":-0.02},{"c":7,"x":15.1,"v":0.04},{"c":7,"x":16,"v":-0.11},{"c":7,"x":16.8,"v":0.01},{"c":7,"x":17.6,"v":-0.05},{"c":7,"x":18.4,"v":0.03},{"c":7,"x":19.2,"v":-0.03},{"c":7,"x":20,"v":0.08},{"c":7,"x":21,"v":-0.06},{"c":7,"x":22,"v":0.02},{"c":7,"x":23,"v":-0.1},{"c":7,"x":24,"v":0.0},{"c":7,"x":25,"v":-0.04},{"c":7,"x":26,"v":0.13},{"c":7,"x":27,"v":-0.07},{"c":7,"x":28,"v":0.03},{"c":7,"x":29,"v":-0.01},{"c":7,"x":30,"v":-0.09},{"c":7,"x":31,"v":0.05},{"c":7,"x":32,"v":-0.03},{"c":7,"x":33,"v":0.0},{"c":7,"x":34,"v":-0.06},{"c":7,"x":35,"v":0.02},
{"c":7,"x":39,"v":-0.02},{"c":7,"x":40,"v":-0.07},{"c":7,"x":41,"v":-0.11},{"c":7,"x":42,"v":-0.04},{"c":7,"x":43,"v":-0.2},{"c":7,"x":44,"v":-0.09},{"c":7,"x":45,"v":-0.195},{"c":7,"x":46,"v":-0.03},{"c":7,"x":47,"v":-0.06},{"c":7,"x":48,"v":0.04},{"c":7,"x":49,"v":0.08},{"c":7,"x":50,"v":0.02},{"c":7,"x":51,"v":0.1},{"c":7,"x":52,"v":0.17},{"c":7,"x":53,"v":0.04},{"c":7,"x":54,"v":-0.02},{"c":7,"x":55,"v":0.06},{"c":7,"x":56,"v":-0.05},{"c":7,"x":57,"v":0.01},{"c":7,"x":58,"v":0.08},{"c":7,"x":59,"v":-0.03},{"c":7,"x":60,"v":0.03},{"c":7,"x":61,"v":-0.08},{"c":7,"x":62,"v":0.05},{"c":7,"x":63,"v":-0.01},{"c":7,"x":64,"v":0.1},{"c":7,"x":65,"v":0.02},{"c":7,"x":66,"v":-0.06},{"c":7,"x":67,"v":0.07},{"c":7,"x":68,"v":0.03},{"c":7,"x":69,"v":-0.04},{"c":7,"x":70,"v":0.09},{"c":7,"x":71,"v":0.0},{"c":7,"x":72,"v":-0.07},{"c":7,"x":73,"v":0.05},{"c":7,"x":74,"v":0.02},{"c":7,"x":75,"v":-0.03},{"c":7,"x":76,"v":0.08},{"c":7,"x":77,"v":-0.05},{"c":7,"x":78,"v":0.04},{"c":7,"x":79,"v":0.06},{"c":7,"x":80,"v":-0.02},{"c":7,"x":81,"v":0.03},{"c":7,"x":82,"v":-0.08},{"c":7,"x":83,"v":-0.155},{"c":7,"x":84,"v":0.05},{"c":7,"x":85,"v":-0.01},{"c":7,"x":86,"v":0.07},{"c":7,"x":87,"v":-0.04},{"c":7,"x":88,"v":0.02},{"c":7,"x":89,"v":-0.06},{"c":7,"x":90,"v":0.04},{"c":7,"x":91,"v":0.0},{"c":7,"x":92,"v":-0.03},{"c":7,"x":93,"v":-0.07},{"c":7,"x":94,"v":0.01},{"c":7,"x":95,"v":-0.05},{"c":7,"x":96,"v":-0.1},{"c":7,"x":97,"v":0.02},{"c":7,"x":98,"v":-0.08},{"c":7,"x":99,"v":-0.12},
{"c":8,"x":0,"x2":100,"t":"w"},{"c":8,"x":0.5,"x2":3,"t":"k"},{"c":8,"x":7,"x2":14,"t":"k"},{"c":8,"x":14,"x2":22,"t":"d"},{"c":8,"x":24,"x2":29.5,"t":"k"},{"c":8,"x":30,"x2":31.5,"t":"y"},{"c":8,"x":32,"x2":37.6,"t":"m"},{"c":8,"x":38,"x2":42,"t":"k"},{"c":8,"x":45,"x2":49.5,"t":"d"},{"c":8,"x":50,"x2":60,"t":"k"},{"c":8,"x":62.5,"x2":65,"t":"k"},{"c":8,"x":68.7,"x2":71,"t":"k"},{"c":8,"x":72,"x2":75.5,"t":"d"},{"c":8,"x":76,"x2":80.5,"t":"k"},{"c":8,"x":84,"x2":87.5,"t":"k"},{"c":8,"x":90,"x2":94.5,"t":"m"},
{"c":8,"a":1,"x":0,"s":-0.025},{"c":8,"a":1,"x":30.4,"s":-0.025},{"c":8,"a":2,"x":32.5,"s":0.005},{"c":8,"a":2,"x":100,"s":0.005},
{"c":8,"x":0.5,"v":0.02},{"c":8,"x":1.5,"v":-0.05},{"c":8,"x":2.5,"v":0.06},{"c":8,"x":3.5,"v":-0.02},{"c":8,"x":4.5,"v":-0.09},{"c":8,"x":5.5,"v":-0.125},{"c":8,"x":6.5,"v":0.01},{"c":8,"x":7.5,"v":-0.06},{"c":8,"x":8.5,"v":0.03},{"c":8,"x":9.5,"v":-0.04},{"c":8,"x":10.5,"v":0.0},{"c":8,"x":11.5,"v":-0.08},{"c":8,"x":12.5,"v":0.05},{"c":8,"x":13.5,"v":-0.03},{"c":8,"x":14.5,"v":-0.07},{"c":8,"x":15.5,"v":0.02},{"c":8,"x":16.5,"v":-0.05},{"c":8,"x":17.5,"v":0.07},{"c":8,"x":18.5,"v":-0.01},{"c":8,"x":19.5,"v":-0.06},{"c":8,"x":20.5,"v":0.03},{"c":8,"x":21.5,"v":-0.04},{"c":8,"x":22.5,"v":0.08},{"c":8,"x":23.5,"v":-0.02},{"c":8,"x":24.5,"v":0.05},{"c":8,"x":25.5,"v":-0.08},{"c":8,"x":26.5,"v":0.0},{"c":8,"x":27.5,"v":0.09},{"c":8,"x":28.5,"v":-0.03},{"c":8,"x":29.5,"v":0.04},
{"c":8,"x":33,"v":0.08},{"c":8,"x":34,"v":0.02},{"c":8,"x":35,"v":-0.04},{"c":8,"x":36,"v":0.1},{"c":8,"x":37,"v":0.05},{"c":8,"x":38,"v":-0.02},{"c":8,"x":39,"v":0.08},{"c":8,"x":40,"v":0.03},{"c":8,"x":41,"v":-0.06},{"c":8,"x":42,"v":0.06},{"c":8,"x":43,"v":0.01},{"c":8,"x":44,"v":0.09},{"c":8,"x":45,"v":-0.03},{"c":8,"x":46,"v":0.04},{"c":8,"x":47,"v":0.0},{"c":8,"x":48,"v":0.07},{"c":8,"x":49,"v":-0.05},{"c":8,"x":50,"v":0.03},{"c":8,"x":51,"v":0.08},{"c":8,"x":52,"v":-0.02},{"c":8,"x":53,"v":0.05},{"c":8,"x":54,"v":-0.07},{"c":8,"x":55,"v":0.02},{"c":8,"x":56,"v":0.06},{"c":8,"x":57,"v":-0.04},{"c":8,"x":58,"v":0.09},{"c":8,"x":59,"v":0.01},{"c":8,"x":60,"v":-0.02},{"c":8,"x":61,"v":0.05},{"c":8,"x":62,"v":-0.06},{"c":8,"x":63,"v":0.03},{"c":8,"x":64,"v":0.0},{"c":8,"x":65,"v":-0.09},{"c":8,"x":66,"v":0.04},{"c":8,"x":67,"v":0.07},{"c":8,"x":68,"v":-0.03},{"c":8,"x":69,"v":0.02},{"c":8,"x":70,"v":-0.11},{"c":8,"x":71,"v":0.05},{"c":8,"x":72,"v":0.0},{"c":8,"x":73,"v":0.14},{"c":8,"x":74,"v":-0.04},{"c":8,"x":75,"v":0.03},{"c":8,"x":76,"v":0.06},{"c":8,"x":77,"v":-0.02},{"c":8,"x":78,"v":0.01},{"c":8,"x":79,"v":0.08},{"c":8,"x":80,"v":-0.05},{"c":8,"x":81,"v":0.04},{"c":8,"x":82,"v":-0.01},{"c":8,"x":83,"v":0.06},{"c":8,"x":84,"v":-0.07},{"c":8,"x":85,"v":0.02},{"c":8,"x":86,"v":0.05},{"c":8,"x":87,"v":-0.03},{"c":8,"x":88,"v":0.08},{"c":8,"x":89,"v":0.01},{"c":8,"x":90,"v":-0.06},{"c":8,"x":91,"v":0.04},{"c":8,"x":92,"v":0.1},{"c":8,"x":93,"v":-0.02},{"c":8,"x":94.4,"v":0.265},{"c":8,"x":95,"v":0.04},{"c":8,"x":96,"v":0.13},{"c":8,"x":97,"v":-0.05},{"c":8,"x":98,"v":-0.145},{"c":8,"x":99,"v":0.07},
{"c":9,"x":0,"x2":100,"t":"w"},{"c":9,"x":2,"x2":6.5,"t":"k"},{"c":9,"x":6.5,"x2":9,"t":"d"},{"c":9,"x":9,"x2":12.5,"t":"k"},{"c":9,"x":14.8,"x2":19.5,"t":"d"},{"c":9,"x":19.5,"x2":26.5,"t":"k"},{"c":9,"x":30.5,"x2":34,"t":"k"},{"c":9,"x":34,"x2":35.2,"t":"y"},{"c":9,"x":35.2,"x2":46,"t":"h"},{"c":9,"x":46,"x2":50,"t":"k"},{"c":9,"x":50,"x2":55,"t":"m"},{"c":9,"x":60,"x2":64.5,"t":"k"},{"c":9,"x":64.5,"x2":69,"t":"m"},{"c":9,"x":69,"x2":76.5,"t":"k"},{"c":9,"x":78.5,"x2":82,"t":"k"},{"c":9,"x":82,"x2":85.5,"t":"d"},{"c":9,"x":85.5,"x2":90,"t":"m"},{"c":9,"x":90,"x2":94.5,"t":"k"},
{"c":9,"a":1,"x":0,"s":0.02},{"c":9,"a":1,"x":31.8,"s":0.02},{"c":9,"a":2,"x":47.8,"s":0.075},{"c":9,"a":2,"x":55.8,"s":0.002},{"c":9,"a":2,"x":98.6,"s":0.002},
{"c":9,"x":0.5,"v":0.04},{"c":9,"x":1.5,"v":-0.03},{"c":9,"x":2.5,"v":0.08},{"c":9,"x":3.5,"v":0.01},{"c":9,"x":4.5,"v":0.06},{"c":9,"x":6,"v":0.27},{"c":9,"x":7,"v":0.02},{"c":9,"x":8,"v":-0.04},{"c":9,"x":9,"v":0.07},{"c":9,"x":10.5,"v":0.16},{"c":9,"x":11.5,"v":0.03},{"c":9,"x":12.5,"v":-0.01},{"c":9,"x":14,"v":-0.07},{"c":9,"x":15,"v":0.05},{"c":9,"x":16,"v":0.09},{"c":9,"x":17,"v":0.0},{"c":9,"x":18,"v":0.04},{"c":9,"x":19,"v":0.07},{"c":9,"x":20,"v":-0.03},{"c":9,"x":21,"v":0.02},{"c":9,"x":22,"v":0.06},{"c":9,"x":23,"v":0.01},{"c":9,"x":24,"v":0.04},{"c":9,"x":25,"v":-0.02},{"c":9,"x":26,"v":0.03},{"c":9,"x":27,"v":0.05},{"c":9,"x":28,"v":0.0},{"c":9,"x":29,"v":0.02},{"c":9,"x":30,"v":0.06},{"c":9,"x":31.8,"v":0.085},
{"c":9,"x":48.5,"v":0.12},{"c":9,"x":49.5,"v":0.05},{"c":9,"x":51,"v":0.2},{"c":9,"x":52,"v":0.1},{"c":9,"x":53,"v":0.03},{"c":9,"x":54,"v":0.08},{"c":9,"x":55,"v":-0.02},{"c":9,"x":56,"v":0.06},{"c":9,"x":57,"v":-0.05},{"c":9,"x":58,"v":0.02},{"c":9,"x":59,"v":0.09},{"c":9,"x":60,"v":-0.03},{"c":9,"x":61,"v":0.04},{"c":9,"x":62,"v":-0.08},{"c":9,"x":63,"v":0.01},{"c":9,"x":64,"v":0.06},{"c":9,"x":65,"v":-0.04},{"c":9,"x":66.6,"v":-0.125},{"c":9,"x":67.5,"v":0.03},{"c":9,"x":68.5,"v":-0.02},{"c":9,"x":69.5,"v":0.07},{"c":9,"x":70.5,"v":0.0},{"c":9,"x":71.5,"v":-0.06},{"c":9,"x":72.5,"v":0.04},{"c":9,"x":73.5,"v":0.08},{"c":9,"x":74.5,"v":-0.03},{"c":9,"x":75.5,"v":0.02},{"c":9,"x":76.5,"v":-0.07},{"c":9,"x":77.5,"v":0.05},{"c":9,"x":78.5,"v":0.1},{"c":9,"x":79.5,"v":-0.01},{"c":9,"x":80.5,"v":0.03},{"c":9,"x":81.5,"v":-0.05},{"c":9,"x":82.5,"v":0.06},{"c":9,"x":83.5,"v":0.0},{"c":9,"x":84.5,"v":-0.04},{"c":9,"x":86,"v":0.11},{"c":9,"x":87,"v":0.02},{"c":9,"x":88,"v":-0.03},{"c":9,"x":89.5,"v":-0.12},{"c":9,"x":90.5,"v":0.05},{"c":9,"x":91.5,"v":0.12},{"c":9,"x":92.5,"v":-0.02},{"c":9,"x":93.5,"v":0.04},{"c":9,"x":94.5,"v":-0.07},{"c":9,"x":95.5,"v":0.01},{"c":9,"x":96.5,"v":0.06},{"c":9,"x":97.5,"v":-0.05},{"c":9,"x":98.5,"v":0.03},
{"c":10,"x":0,"x2":100,"t":"w"},{"c":10,"x":3.4,"x2":8,"t":"k"},{"c":10,"x":10,"x2":14.5,"t":"m"},{"c":10,"x":14.8,"x2":19.5,"t":"d"},{"c":10,"x":19.5,"x2":24,"t":"k"},{"c":10,"x":29.1,"x2":30.3,"t":"y"},{"c":10,"x":34.5,"x2":38,"t":"m"},{"c":10,"x":38,"x2":45,"t":"k"},{"c":10,"x":47.5,"x2":54.5,"t":"k"},{"c":10,"x":58.5,"x2":67.5,"t":"k"},{"c":10,"x":67.5,"x2":72,"t":"d"},{"c":10,"x":72,"x2":79,"t":"k"},{"c":10,"x":83.5,"x2":90,"t":"d"},{"c":10,"x":90,"x2":94.5,"t":"m"},
{"c":10,"a":1,"x":0,"s":0.0},{"c":10,"a":1,"x":29,"s":0.0},{"c":10,"a":2,"x":31.3,"s":-0.04},{"c":10,"a":2,"x":38.6,"s":0.04},{"c":10,"a":2,"x":51.4,"s":-0.03},{"c":10,"a":2,"x":100,"s":-0.03},
{"c":10,"x":0.5,"v":0.02},{"c":10,"x":1,"v":0.15},{"c":10,"x":2,"v":-0.04},{"c":10,"x":3,"v":0.05},{"c":10,"x":4,"v":-0.07},{"c":10,"x":5,"v":0.08},{"c":10,"x":6,"v":0.01},{"c":10,"x":7,"v":-0.03},{"c":10,"x":8,"v":0.06},{"c":10,"x":9,"v":-0.08},{"c":10,"x":10,"v":0.03},{"c":10,"x":11,"v":0.09},{"c":10,"x":12,"v":-0.01},{"c":10,"x":13,"v":0.04},{"c":10,"x":14,"v":-0.05},{"c":10,"x":15,"v":0.07},{"c":10,"x":16,"v":0.02},{"c":10,"x":17,"v":-0.06},{"c":10,"x":18,"v":0.05},{"c":10,"x":19,"v":-0.02},{"c":10,"x":20,"v":0.03},{"c":10,"x":21,"v":-0.07},{"c":10,"x":22,"v":0.06},{"c":10,"x":23,"v":0.0},{"c":10,"x":24,"v":-0.04},{"c":10,"x":25,"v":0.04},{"c":10,"x":26,"v":-0.09},{"c":10,"x":27,"v":0.02},{"c":10,"x":28.5,"v":0.135},
{"c":10,"x":31.5,"v":-0.05},{"c":10,"x":32.5,"v":-0.02},{"c":10,"x":33.5,"v":-0.08},{"c":10,"x":34.5,"v":-0.04},{"c":10,"x":35.5,"v":0.0},{"c":10,"x":36.5,"v":-0.06},{"c":10,"x":37.5,"v":-0.03},{"c":10,"x":38.7,"v":0.06},{"c":10,"x":39.5,"v":0.02},{"c":10,"x":40.5,"v":0.08},{"c":10,"x":41.5,"v":0.04},{"c":10,"x":42.5,"v":0.1},{"c":10,"x":43.5,"v":0.01},{"c":10,"x":44.5,"v":0.07},{"c":10,"x":45.5,"v":0.05},{"c":10,"x":46.5,"v":0.12},{"c":10,"x":47.5,"v":0.03},{"c":10,"x":48.5,"v":0.09},{"c":10,"x":49.5,"v":0.06},{"c":10,"x":50.5,"v":0.0},{"c":10,"x":51.5,"v":-0.05},{"c":10,"x":52.5,"v":0.02},{"c":10,"x":53.5,"v":-0.07},{"c":10,"x":54.5,"v":-0.02},{"c":10,"x":55.5,"v":0.04},{"c":10,"x":56.5,"v":-0.05},{"c":10,"x":57.5,"v":-0.01},{"c":10,"x":58.5,"v":-0.08},{"c":10,"x":59.5,"v":0.03},{"c":10,"x":60.5,"v":-0.04},{"c":10,"x":61.5,"v":-0.06},{"c":10,"x":62.5,"v":0.01},{"c":10,"x":63.5,"v":-0.03},{"c":10,"x":64.5,"v":-0.09},{"c":10,"x":65.5,"v":0.05},{"c":10,"x":66.5,"v":-0.02},{"c":10,"x":67.5,"v":-0.06},{"c":10,"x":68.5,"v":0.02},{"c":10,"x":69.5,"v":-0.04},{"c":10,"x":70.5,"v":-0.07},{"c":10,"x":71.5,"v":0.06},{"c":10,"x":72.5,"v":-0.01},{"c":10,"x":73.5,"v":-0.05},{"c":10,"x":74.5,"v":0.02},{"c":10,"x":75.5,"v":-0.08},{"c":10,"x":76.5,"v":-0.03},{"c":10,"x":77.5,"v":0.01},{"c":10,"x":78.5,"v":-0.06},{"c":10,"x":79.5,"v":0.04},{"c":10,"x":80.5,"v":-0.02},{"c":10,"x":81.5,"v":-0.09},{"c":10,"x":82.5,"v":0.03},{"c":10,"x":83.5,"v":-0.04},{"c":10,"x":84.5,"v":0.0},{"c":10,"x":85.5,"v":-0.07},{"c":10,"x":86.5,"v":-0.02},{"c":10,"x":87.5,"v":0.05},{"c":10,"x":88.5,"v":-0.05},{"c":10,"x":89.5,"v":-0.01},{"c":10,"x":90.6,"v":-0.17},{"c":10,"x":91.5,"v":-0.03},{"c":10,"x":92.5,"v":-0.08},{"c":10,"x":93.5,"v":0.02},{"c":10,"x":94.5,"v":-0.06},{"c":10,"x":95.5,"v":-0.1},{"c":10,"x":96.5,"v":0.01},{"c":10,"x":97.5,"v":-0.04},{"c":10,"x":98.5,"v":-0.07},{"c":10,"x":99.5,"v":0.03},
{"c":11,"x":0,"x2":100,"t":"w"},{"c":11,"x":0,"x2":5.5,"t":"m"},{"c":11,"x":5.5,"x2":11.3,"t":"k"},{"c":11,"x":14.7,"x2":20.5,"t":"d"},{"c":11,"x":20.5,"x2":27.5,"t":"k"},{"c":11,"x":33,"x2":35.5,"t":"k"},{"c":11,"x":39.2,"x2":40.5,"t":"y"},{"c":11,"x":41,"x2":45,"t":"k"},{"c":11,"x":45,"x2":48,"t":"m"},{"c":11,"x":50.5,"x2":51.5,"t":"m"},{"c":11,"x":51.5,"x2":55,"t":"d"},{"c":11,"x":55,"x2":63,"t":"k"},{"c":11,"x":66.5,"x2":69,"t":"d"},{"c":11,"x":72.5,"x2":81.7,"t":"k"},{"c":11,"x":86.3,"x2":89.7,"t":"m"},{"c":11,"x":93.5,"x2":97,"t":"m"},
{"c":11,"a":1,"x":0,"s":0.013},{"c":11,"a":1,"x":37.5,"s":0.013},{"c":11,"a":2,"x":41,"s":-0.03},{"c":11,"a":2,"x":59.7,"s":0.03},{"c":11,"a":2,"x":80.8,"s":-0.04},{"c":11,"a":2,"x":100,"s":-0.04},
{"c":11,"x":0.7,"v":0.185},{"c":11,"x":1.4,"v":-0.11},{"c":11,"x":2.2,"v":0.05},{"c":11,"x":3,"v":-0.03},{"c":11,"x":3.8,"v":0.08},{"c":11,"x":4.6,"v":0.02},{"c":11,"x":5.4,"v":-0.05},{"c":11,"x":6.2,"v":0.06},{"c":11,"x":7,"v":0.0},{"c":11,"x":7.8,"v":0.04},{"c":11,"x":8.6,"v":-0.08},{"c":11,"x":9.4,"v":0.1},{"c":11,"x":10.2,"v":0.02},{"c":11,"x":11,"v":-0.04},{"c":11,"x":11.7,"v":-0.125},{"c":11,"x":12.5,"v":0.06},{"c":11,"x":13.3,"v":0.01},{"c":11,"x":14.1,"v":-0.12},{"c":11,"x":14.9,"v":0.07},{"c":11,"x":15.7,"v":-0.02},{"c":11,"x":16.5,"v":0.03},{"c":11,"x":17.3,"v":0.09},{"c":11,"x":18.1,"v":-0.06},{"c":11,"x":18.9,"v":0.04},{"c":11,"x":19.7,"v":0.0},{"c":11,"x":20.5,"v":0.08},{"c":11,"x":21.3,"v":-0.03},{"c":11,"x":22.1,"v":0.05},{"c":11,"x":22.9,"v":0.1},{"c":11,"x":23.7,"v":-0.01},{"c":11,"x":24.5,"v":0.03},{"c":11,"x":25.3,"v":-0.05},{"c":11,"x":26.1,"v":0.07},{"c":11,"x":26.9,"v":0.11},{"c":11,"x":27.7,"v":0.02},{"c":11,"x":28.5,"v":0.09},{"c":11,"x":29.3,"v":-0.02},{"c":11,"x":30.1,"v":0.05},{"c":11,"x":30.9,"v":0.1},{"c":11,"x":31.7,"v":-0.04},{"c":11,"x":32.5,"v":0.04},{"c":11,"x":33.3,"v":0.07},{"c":11,"x":34.1,"v":-0.07},{"c":11,"x":34.9,"v":0.01},{"c":11,"x":35.7,"v":0.06},{"c":11,"x":36.5,"v":-0.03},
{"c":11,"x":41.5,"v":0.06},{"c":11,"x":42.5,"v":-0.02},{"c":11,"x":43.5,"v":0.05},{"c":11,"x":44.5,"v":-0.07},{"c":11,"x":45.5,"v":0.0},{"c":11,"x":46.5,"v":-0.05},{"c":11,"x":47.5,"v":0.03},{"c":11,"x":48.3,"v":-0.145},{"c":11,"x":49.3,"v":-0.04},{"c":11,"x":50.6,"v":-0.2},{"c":11,"x":51.5,"v":-0.06},{"c":11,"x":52.5,"v":-0.01},{"c":11,"x":53.5,"v":-0.08},{"c":11,"x":54.7,"v":0.145},{"c":11,"x":55.5,"v":-0.03},{"c":11,"x":56.5,"v":-0.07},{"c":11,"x":57.5,"v":0.02},{"c":11,"x":58.5,"v":-0.05},{"c":11,"x":60.5,"v":0.05},{"c":11,"x":61.5,"v":0.01},{"c":11,"x":62.5,"v":0.09},{"c":11,"x":63.5,"v":0.03},{"c":11,"x":64.5,"v":-0.02},{"c":11,"x":65.5,"v":0.06},{"c":11,"x":66.5,"v":0.0},{"c":11,"x":67.5,"v":0.08},{"c":11,"x":68.5,"v":0.04},{"c":11,"x":69.5,"v":-0.03},{"c":11,"x":70.5,"v":0.07},{"c":11,"x":71.5,"v":0.02},{"c":11,"x":72.5,"v":0.06},{"c":11,"x":73.5,"v":0.01},{"c":11,"x":75,"v":0.175},{"c":11,"x":76,"v":0.05},{"c":11,"x":77,"v":0.03},{"c":11,"x":78,"v":0.08},{"c":11,"x":79,"v":0.0},{"c":11,"x":80,"v":0.04},{"c":11,"x":81.5,"v":-0.04},{"c":11,"x":82.5,"v":-0.07},{"c":11,"x":83.5,"v":-0.02},{"c":11,"x":84.5,"v":-0.06},{"c":11,"x":85.5,"v":0.01},{"c":11,"x":86.5,"v":-0.08},{"c":11,"x":87.5,"v":-0.03},{"c":11,"x":88.5,"v":-0.05},{"c":11,"x":89.5,"v":0.03},{"c":11,"x":90.5,"v":-0.09},{"c":11,"x":91.5,"v":-0.04},{"c":11,"x":92.5,"v":-0.01},{"c":11,"x":93.5,"v":-0.07},{"c":11,"x":94.5,"v":-0.03},{"c":11,"x":95.5,"v":0.02},{"c":11,"x":96.5,"v":-0.06},{"c":11,"x":97.5,"v":-0.125},{"c":11,"x":98.5,"v":-0.04},{"c":11,"x":99.5,"v":0.0},
{"c":12,"x":0,"x2":100,"t":"w"},{"c":12,"x":3.5,"x2":5.5,"t":"m"},{"c":12,"x":5.8,"x2":8.1,"t":"k"},{"c":12,"x":10.4,"x2":24.5,"t":"k"},{"c":12,"x":24.5,"x2":26.2,"t":"y"},{"c":12,"x":26.2,"x2":36,"t":"k"},{"c":12,"x":39.5,"x2":43,"t":"d"},{"c":12,"x":43,"x2":50,"t":"k"},{"c":12,"x":54.3,"x2":58.9,"t":"k"},{"c":12,"x":61,"x2":68.4,"t":"k"},{"c":12,"x":71.8,"x2":76.4,"t":"d"},{"c":12,"x":76.4,"x2":81,"t":"m"},{"c":12,"x":82,"x2":84.5,"t":"d"},{"c":12,"x":86.5,"x2":91,"t":"d"},{"c":12,"x":95.5,"x2":99,"t":"m"},
{"c":12,"a":1,"x":0,"s":-0.005},{"c":12,"a":1,"x":25,"s":-0.005},{"c":12,"a":2,"x":27.4,"s":-0.002},{"c":12,"a":2,"x":100,"s":-0.002},
{"c":12,"x":0.5,"v":-0.04},{"c":12,"x":1.5,"v":0.02},{"c":12,"x":2.5,"v":-0.08},{"c":12,"x":3.5,"v":-0.02},{"c":12,"x":4.4,"v":-0.12},{"c":12,"x":5.4,"v":0.01},{"c":12,"x":6.4,"v":-0.05},{"c":12,"x":7.4,"v":0.04},{"c":12,"x":8.4,"v":-0.03},{"c":12,"x":9.4,"v":0.06},{"c":12,"x":10.4,"v":-0.01},{"c":12,"x":11.4,"v":0.08},{"c":12,"x":12.4,"v":0.03},{"c":12,"x":13.4,"v":-0.04},{"c":12,"x":14.4,"v":0.07},{"c":12,"x":15.4,"v":0.02},{"c":12,"x":16.4,"v":0.09},{"c":12,"x":17.4,"v":-0.02},{"c":12,"x":18.4,"v":0.05},{"c":12,"x":19.5,"v":0.125},{"c":12,"x":20.5,"v":0.01},{"c":12,"x":21.5,"v":-0.05},{"c":12,"x":22.5,"v":0.04},{"c":12,"x":23.5,"v":-0.09},{"c":12,"x":24.5,"v":0.0},
{"c":12,"x":28,"v":0.05},{"c":12,"x":29,"v":-0.03},{"c":12,"x":30,"v":0.08},{"c":12,"x":31,"v":0.02},{"c":12,"x":32,"v":-0.06},{"c":12,"x":33,"v":0.1},{"c":12,"x":34,"v":0.04},{"c":12,"x":35,"v":-0.02},{"c":12,"x":36,"v":-0.1},{"c":12,"x":37,"v":0.06},{"c":12,"x":38,"v":-0.07},{"c":12,"x":39,"v":0.03},{"c":12,"x":40,"v":0.08},{"c":12,"x":41,"v":-0.04},{"c":12,"x":42,"v":0.0},{"c":12,"x":43,"v":0.06},{"c":12,"x":44,"v":-0.02},{"c":12,"x":45,"v":0.03},{"c":12,"x":46,"v":-0.06},{"c":12,"x":47,"v":0.135},{"c":12,"x":48,"v":0.01},{"c":12,"x":49,"v":-0.04},{"c":12,"x":50,"v":0.07},{"c":12,"x":51,"v":0.02},{"c":12,"x":52,"v":-0.01},{"c":12,"x":53,"v":0.05},{"c":12,"x":54,"v":0.09},{"c":12,"x":55,"v":-0.03},{"c":12,"x":56,"v":0.04},{"c":12,"x":57,"v":0.0},{"c":12,"x":58,"v":0.08},{"c":12,"x":59,"v":-0.05},{"c":12,"x":60,"v":0.03},{"c":12,"x":61,"v":0.06},{"c":12,"x":62,"v":-0.02},{"c":12,"x":63,"v":0.02},{"c":12,"x":64,"v":0.07},{"c":12,"x":65,"v":-0.04},{"c":12,"x":66,"v":0.01},{"c":12,"x":67,"v":0.05},{"c":12,"x":68,"v":-0.07},{"c":12,"x":69,"v":0.03},{"c":12,"x":70,"v":0.0},{"c":12,"x":71,"v":0.06},{"c":12,"x":72,"v":-0.03},{"c":12,"x":73,"v":0.02},{"c":12,"x":74,"v":0.08},{"c":12,"x":75,"v":-0.05},{"c":12,"x":76,"v":0.01},{"c":12,"x":77,"v":0.04},{"c":12,"x":78,"v":-0.02},{"c":12,"x":79,"v":0.06},{"c":12,"x":80,"v":-0.135},{"c":12,"x":81,"v":0.0},{"c":12,"x":82,"v":-0.06},{"c":12,"x":83,"v":0.03},{"c":12,"x":84,"v":-0.04},{"c":12,"x":85,"v":0.05},{"c":12,"x":86,"v":-0.08},{"c":12,"x":87,"v":0.02},{"c":12,"x":88,"v":0.09},{"c":12,"x":89,"v":-0.03},{"c":12,"x":90,"v":0.04},{"c":12,"x":91,"v":-0.06},{"c":12,"x":92,"v":0.01},{"c":12,"x":93,"v":0.06},{"c":12,"x":94,"v":-0.02},{"c":12,"x":95,"v":-0.07},{"c":12,"x":96,"v":0.03},{"c":12,"x":97,"v":0.1},{"c":12,"x":98,"v":-0.04},{"c":12,"x":99,"v":0.07},
{"c":13,"x":0,"x2":100,"t":"w"},{"c":13,"x":0,"x2":4.4,"t":"s"},{"c":13,"x":4.4,"x2":9,"t":"s"},{"c":13,"x":9,"x2":14.7,"t":"h"},{"c":13,"x":14.7,"x2":16.6,"t":"y"},{"c":13,"x":18.5,"x2":21,"t":"k"},{"c":13,"x":22,"x2":25,"t":"k"},{"c":13,"x":26,"x2":29,"t":"k"},{"c":13,"x":30,"x2":33,"t":"k"},{"c":13,"x":34,"x2":36.5,"t":"k"},{"c":13,"x":37.6,"x2":42.2,"t":"d"},{"c":13,"x":44,"x2":45,"t":"k"},{"c":13,"x":47.9,"x2":53.7,"t":"k"},{"c":13,"x":55,"x2":56,"t":"k"},{"c":13,"x":58.2,"x2":62.8,"t":"k"},{"c":13,"x":63.5,"x2":68.5,"t":"k"},{"c":13,"x":69.5,"x2":76.6,"t":"k"},{"c":13,"x":78.9,"x2":82.3,"t":"k"},{"c":13,"x":83.5,"x2":86.9,"t":"k"},{"c":13,"x":89.2,"x2":92.7,"t":"k"},
{"c":13,"a":1,"x":16.4,"s":0.015},{"c":13,"a":1,"x":100,"s":0.015},
{"c":13,"x":17,"v":0.065},{"c":13,"x":18,"v":-0.02},{"c":13,"x":19,"v":0.04},{"c":13,"x":20,"v":-0.06},{"c":13,"x":21,"v":0.02},{"c":13,"x":22,"v":0.08},{"c":13,"x":23,"v":-0.03},{"c":13,"x":24,"v":0.05},{"c":13,"x":25,"v":0.0},{"c":13,"x":26,"v":0.07},{"c":13,"x":27,"v":-0.04},{"c":13,"x":28.5,"v":0.1},{"c":13,"x":29.5,"v":0.03},{"c":13,"x":30.5,"v":-0.02},{"c":13,"x":31.5,"v":0.06},{"c":13,"x":33,"v":0.01},{"c":13,"x":35,"v":0.04},{"c":13,"x":37,"v":-0.03},{"c":13,"x":39,"v":0.07},{"c":13,"x":41,"v":0.02},{"c":13,"x":43,"v":-0.01},{"c":13,"x":45,"v":0.05},{"c":13,"x":46.7,"v":0.145},{"c":13,"x":48,"v":0.03},{"c":13,"x":50,"v":-0.02},{"c":13,"x":52,"v":0.06},{"c":13,"x":54,"v":0.0},{"c":13,"x":56,"v":0.04},{"c":13,"x":58,"v":-0.04},{"c":13,"x":60,"v":0.08},{"c":13,"x":62,"v":0.02},{"c":13,"x":64,"v":-0.03},{"c":13,"x":66,"v":0.05},{"c":13,"x":68,"v":0.01},{"c":13,"x":70,"v":0.07},{"c":13,"x":71.5,"v":0.18},{"c":13,"x":73,"v":0.03},{"c":13,"x":75,"v":-0.05},{"c":13,"x":77,"v":0.06},{"c":13,"x":79.8,"v":0.13},{"c":13,"x":81,"v":0.02},{"c":13,"x":83,"v":-0.04},{"c":13,"x":85,"v":0.05},{"c":13,"x":87,"v":0.0},{"c":13,"x":89.7,"v":-0.14},{"c":13,"x":91,"v":0.03},{"c":13,"x":93,"v":-0.02},{"c":13,"x":95,"v":0.07},{"c":13,"x":96.5,"v":0.04},{"c":13,"x":98,"v":0.11},{"c":13,"x":99,"v":-0.01},
{"c":14,"x":0,"x2":100,"t":"w"},{"c":14,"x":0,"x2":4,"t":"s"},{"c":14,"x":4,"x2":7,"t":"s"},{"c":14,"x":7,"x2":15,"t":"h"},{"c":14,"x":15,"x2":16.5,"t":"y"},{"c":14,"x":21.6,"x2":24.5,"t":"k"},{"c":14,"x":25.5,"x2":31,"t":"k"},{"c":14,"x":31.8,"x2":37,"t":"k"},{"c":14,"x":37.5,"x2":41.6,"t":"k"},{"c":14,"x":44.6,"x2":50.3,"t":"k"},{"c":14,"x":55,"x2":58.4,"t":"d"},{"c":14,"x":58.4,"x2":65,"t":"m"},{"c":14,"x":65,"x2":68.5,"t":"k"},{"c":14,"x":69.5,"x2":72.3,"t":"k"},{"c":14,"x":73.5,"x2":78,"t":"k"},{"c":14,"x":78,"x2":84.5,"t":"k"},{"c":14,"x":88.5,"x2":95,"t":"m"},
{"c":14,"a":1,"x":18,"s":0.035},{"c":14,"a":1,"x":53.3,"s":-0.015},{"c":14,"a":1,"x":95.7,"s":-0.24},{"c":14,"a":1,"x":100,"s":-0.24},
{"c":14,"x":18.5,"v":0.02},{"c":14,"x":19.5,"v":0.06},{"c":14,"x":20.5,"v":-0.03},{"c":14,"x":21.5,"v":0.08},{"c":14,"x":22.5,"v":0.04},{"c":14,"x":23.5,"v":0.1},{"c":14,"x":24.5,"v":0.01},{"c":14,"x":26.5,"v":0.29},{"c":14,"x":27.5,"v":0.05},{"c":14,"x":28.5,"v":0.12},{"c":14,"x":29.5,"v":0.03},{"c":14,"x":30.5,"v":0.07},{"c":14,"x":31.5,"v":-0.02},{"c":14,"x":32.5,"v":0.09},{"c":14,"x":33.5,"v":0.04},{"c":14,"x":34.5,"v":0.13},{"c":14,"x":35.5,"v":0.0},{"c":14,"x":36.5,"v":0.06},{"c":14,"x":37.5,"v":0.02},{"c":14,"x":38.5,"v":-0.04},{"c":14,"x":39.5,"v":0.08},{"c":14,"x":40.5,"v":0.03},{"c":14,"x":41.5,"v":0.05},{"c":14,"x":42.5,"v":-0.01},{"c":14,"x":43.5,"v":0.07},{"c":14,"x":44.5,"v":0.04},{"c":14,"x":45.5,"v":0.02},{"c":14,"x":46.5,"v":0.06},{"c":14,"x":47.5,"v":-0.02},{"c":14,"x":48.5,"v":0.03},{"c":14,"x":49.5,"v":0.05},{"c":14,"x":50.5,"v":0.01},{"c":14,"x":51.5,"v":0.04},{"c":14,"x":52.5,"v":-0.03},
{"c":14,"x":54,"v":-0.05},{"c":14,"x":55,"v":0.01},{"c":14,"x":56,"v":-0.03},{"c":14,"x":57,"v":0.03},{"c":14,"x":58,"v":-0.07},{"c":14,"x":59,"v":0.0},{"c":14,"x":60,"v":-0.04},{"c":14,"x":61,"v":-0.09},{"c":14,"x":62,"v":0.02},{"c":14,"x":63,"v":-0.06},{"c":14,"x":63.8,"v":-0.145},{"c":14,"x":65,"v":-0.02},{"c":14,"x":66,"v":0.04},{"c":14,"x":67,"v":-0.05},{"c":14,"x":68,"v":-0.01},{"c":14,"x":69,"v":-0.09},{"c":14,"x":70,"v":0.03},{"c":14,"x":71,"v":-0.04},{"c":14,"x":72,"v":0.0},{"c":14,"x":73,"v":-0.07},{"c":14,"x":74,"v":0.05},{"c":14,"x":75,"v":-0.02},{"c":14,"x":76,"v":0.1},{"c":14,"x":77,"v":-0.03},{"c":14,"x":78,"v":0.01},{"c":14,"x":79,"v":-0.06},{"c":14,"x":80,"v":0.04},{"c":14,"x":81,"v":-0.02},{"c":14,"x":82,"v":-0.08},{"c":14,"x":83,"v":0.02},{"c":14,"x":84,"v":-0.04},{"c":14,"x":85,"v":0.06},{"c":14,"x":86,"v":-0.05},{"c":14,"x":87,"v":-0.1},{"c":14,"x":88,"v":0.0},{"c":14,"x":89,"v":-0.03},{"c":14,"x":90,"v":-0.07},{"c":14,"x":91,"v":0.03},{"c":14,"x":92,"v":-0.04},{"c":14,"x":93.6,"v":0.235},{"c":14,"x":94.5,"v":-0.06},{"c":14,"x":95.5,"v":0.03},{"c":14,"x":96,"v":0.1},{"c":14,"x":97,"v":-0.18},{"c":14,"x":98,"v":-0.25},{"c":14,"x":98.8,"v":-0.1},
{"c":14,"x":99.5,"o":0.5},
{"c":15,"x":0,"x2":100,"t":"w"},{"c":15,"x":0,"x2":3.4,"t":"s"},{"c":15,"x":3.4,"x2":7,"t":"s"},{"c":15,"x":7,"x2":15,"t":"h"},{"c":15,"x":15,"x2":18,"t":"y"},{"c":15,"x":21.5,"x2":22.5,"t":"m"},{"c":15,"x":23,"x2":25.5,"t":"k"},{"c":15,"x":32.5,"x2":39.4,"t":"d"},{"c":15,"x":43.5,"x2":50.9,"t":"d"},{"c":15,"x":50.9,"x2":57.3,"t":"m"},{"c":15,"x":57.3,"x2":65.4,"t":"d"},{"c":15,"x":65.4,"x2":70,"t":"m"},{"c":15,"x":73.4,"x2":76.8,"t":"m"},{"c":15,"x":83.7,"x2":88.3,"t":"m"},{"c":15,"x":92.9,"x2":96.3,"t":"m"},
{"c":15,"a":1,"x":19.4,"s":-0.012},{"c":15,"a":1,"x":98,"s":-0.012},
{"c":15,"x":19.4,"v":-0.18},{"c":15,"x":20.5,"v":0.01},{"c":15,"x":21.5,"v":-0.03},{"c":15,"x":22.5,"v":0.04},{"c":15,"x":23.5,"v":-0.08},{"c":15,"x":25,"v":0.02},{"c":15,"x":26.5,"v":0.03},{"c":15,"x":27.5,"v":-0.1},{"c":15,"x":29,"v":-0.04},{"c":15,"x":30.5,"v":0.02},{"c":15,"x":32,"v":-0.06},{"c":15,"x":33.5,"v":0.04},{"c":15,"x":35,"v":-0.03},{"c":15,"x":36.5,"v":-0.05},{"c":15,"x":38,"v":0.03},{"c":15,"x":39.5,"v":-0.02},{"c":15,"x":41,"v":-0.12},{"c":15,"x":42,"v":0.04},{"c":15,"x":43,"v":-0.03},{"c":15,"x":44,"v":0.01},{"c":15,"x":45,"v":0.05},{"c":15,"x":46,"v":-0.04},{"c":15,"x":47,"v":0.02},{"c":15,"x":48,"v":-0.01},{"c":15,"x":49,"v":0.135},{"c":15,"x":50,"v":0.03},{"c":15,"x":51,"v":0.1},{"c":15,"x":52,"v":-0.02},{"c":15,"x":53.5,"v":0.04},{"c":15,"x":55,"v":-0.05},{"c":15,"x":56.5,"v":0.01},{"c":15,"x":58,"v":-0.06},{"c":15,"x":59.5,"v":0.02},{"c":15,"x":61,"v":0.03},{"c":15,"x":62.5,"v":-0.04},{"c":15,"x":64,"v":0.08},{"c":15,"x":65,"v":0.04},{"c":15,"x":66.5,"v":-0.02},{"c":15,"x":68,"v":-0.08},{"c":15,"x":69.5,"v":0.0},{"c":15,"x":71,"v":-0.05},{"c":15,"x":72.5,"v":0.01},{"c":15,"x":74,"v":0.02},{"c":15,"x":75,"v":0.05},{"c":15,"x":76.5,"v":-0.02},{"c":15,"x":78,"v":-0.06},{"c":15,"x":79.5,"v":0.03},{"c":15,"x":81,"v":0.04},{"c":15,"x":82.5,"v":-0.03},{"c":15,"x":84,"v":-0.05},{"c":15,"x":85.5,"v":0.0},{"c":15,"x":87,"v":-0.02},{"c":15,"x":88,"v":-0.07},{"c":15,"x":89.5,"v":0.01},{"c":15,"x":91,"v":-0.04},{"c":15,"x":92.5,"v":0.02},{"c":15,"x":94,"v":-0.06},{"c":15,"x":95.5,"v":0.03},{"c":15,"x":97,"v":-0.05},
{"c":16,"x":0,"x2":100,"t":"w"},{"c":16,"x":9,"x2":11.3,"t":"m"},{"c":16,"x":12.4,"x2":14.7,"t":"d"},{"c":16,"x":16.4,"x2":18,"t":"d"},{"c":16,"x":18.7,"x2":22.8,"t":"m"},{"c":16,"x":27,"x2":31,"t":"m"},{"c":16,"x":38.5,"x2":41.7,"t":"y"},{"c":16,"x":41.7,"x2":52.8,"t":"h"},{"c":16,"x":58.5,"x2":62,"t":"m"},{"c":16,"x":62,"x2":73.5,"t":"k"},{"c":16,"x":77,"x2":79.3,"t":"m"},{"c":16,"x":81.6,"x2":86.2,"t":"d"},{"c":16,"x":89.5,"x2":93,"t":"m"},{"c":16,"x":94.5,"x2":95.5,"t":"k"},{"c":16,"x":96.5,"x2":98,"t":"m"},
{"c":16,"a":1,"x":0,"s":-0.01},{"c":16,"a":1,"x":24.7,"s":-0.115},{"c":16,"a":1,"x":33,"s":0.08},{"c":16,"a":1,"x":37.5,"s":0.08},{"c":16,"a":2,"x":49.4,"s":-0.015},{"c":16,"a":2,"x":98.6,"s":-0.015},
{"c":16,"x":0.5,"v":-0.03},{"c":16,"x":1.5,"v":0.03},{"c":16,"x":2.5,"v":-0.06},{"c":16,"x":3.5,"v":0.01},{"c":16,"x":4.5,"v":0.02},{"c":16,"x":5.5,"v":-0.04},{"c":16,"x":6.5,"v":0.0},{"c":16,"x":7.5,"v":-0.08},{"c":16,"x":8.5,"v":0.05},{"c":16,"x":9.4,"v":0.11},{"c":16,"x":10.2,"v":0.1},{"c":16,"x":11,"v":-0.07},{"c":16,"x":12,"v":0.02},{"c":16,"x":13,"v":-0.03},{"c":16,"x":14,"v":0.06},{"c":16,"x":15,"v":-0.06},{"c":16,"x":16,"v":0.01},{"c":16,"x":17.4,"v":0.15},{"c":16,"x":18.5,"v":-0.09},{"c":16,"x":19.5,"v":-0.02},{"c":16,"x":20.5,"v":0.04},{"c":16,"x":21.5,"v":-0.05},{"c":16,"x":22.5,"v":0.0},{"c":16,"x":23.5,"v":-0.1},{"c":16,"x":24.5,"v":0.03},{"c":16,"x":26,"v":-0.1},{"c":16,"x":27,"v":-0.06},{"c":16,"x":28,"v":-0.13},{"c":16,"x":29,"v":-0.08},{"c":16,"x":30,"v":-0.04},{"c":16,"x":31,"v":-0.11},{"c":16,"x":32,"v":-0.07},{"c":16,"x":33,"v":-0.145},{"c":16,"x":34,"v":0.05},{"c":16,"x":35,"v":0.09},{"c":16,"x":35.7,"v":0.15},{"c":16,"x":36.8,"v":0.25},{"c":16,"x":37.3,"v":0.07},
{"c":16,"x":49.5,"v":0.02},{"c":16,"x":50.5,"v":-0.06},{"c":16,"x":51.5,"v":0.01},{"c":16,"x":52.5,"v":-0.11},{"c":16,"x":53.5,"v":0.03},{"c":16,"x":54.5,"v":-0.03},{"c":16,"x":55.5,"v":0.08},{"c":16,"x":56.5,"v":0.0},{"c":16,"x":57.5,"v":-0.04},{"c":16,"x":58.5,"v":0.05},{"c":16,"x":59.5,"v":-0.02},{"c":16,"x":60.5,"v":0.03},{"c":16,"x":62,"v":-0.155},{"c":16,"x":63,"v":0.01},{"c":16,"x":64,"v":-0.05},{"c":16,"x":65,"v":0.06},{"c":16,"x":66,"v":-0.02},{"c":16,"x":67,"v":0.1},{"c":16,"x":68,"v":-0.06},{"c":16,"x":69,"v":0.02},{"c":16,"x":70,"v":0.05},{"c":16,"x":71,"v":-0.08},{"c":16,"x":72,"v":0.0},{"c":16,"x":73.5,"v":0.147},{"c":16,"x":74.5,"v":0.04},{"c":16,"x":75.5,"v":-0.03},{"c":16,"x":76.5,"v":0.07},{"c":16,"x":77.5,"v":-0.01},{"c":16,"x":78.5,"v":0.06},{"c":16,"x":79.5,"v":-0.05},{"c":16,"x":80.5,"v":0.02},{"c":16,"x":81.5,"v":-0.02},{"c":16,"x":82.5,"v":0.1},{"c":16,"x":83.5,"v":-0.07},{"c":16,"x":84.5,"v":0.01},{"c":16,"x":85.5,"v":-0.04},{"c":16,"x":86.5,"v":0.04},{"c":16,"x":87.5,"v":-0.09},{"c":16,"x":88.5,"v":0.03},{"c":16,"x":89.5,"v":0.0},{"c":16,"x":90.5,"v":0.07},{"c":16,"x":91.5,"v":-0.05},{"c":16,"x":92.5,"v":0.02},{"c":16,"x":93.5,"v":-0.03},{"c":16,"x":94.5,"v":0.05},{"c":16,"x":95.5,"v":-0.01},{"c":16,"x":96.5,"v":0.03},{"c":16,"x":97.5,"v":0.09},{"c":16,"x":98.5,"v":-0.06},{"c":16,"x":99.5,"v":0.06},
{"c":16,"x":25,"o":-0.245},
{"c":17,"x":0,"x2":100,"t":"w"},{"c":17,"x":3.5,"x2":6.9,"t":"m"},{"c":17,"x":12.7,"x2":19.6,"t":"d"},{"c":17,"x":28.4,"x2":30.7,"t":"y"},{"c":17,"x":39.3,"x2":46.2,"t":"m"},{"c":17,"x":48.5,"x2":51,"t":"m"},{"c":17,"x":51,"x2":55,"t":"l"},{"c":17,"x":56,"x2":61.2,"t":"m"},{"c":17,"x":61.2,"x2":70.4,"t":"d"},{"c":17,"x":71,"x2":72.5,"t":"k"},{"c":17,"x":74,"x2":76,"t":"k"},{"c":17,"x":77.4,"x2":82,"t":"d"},
{"c":17,"a":1,"x":0,"s":-0.035},{"c":17,"a":1,"x":30,"s":-0.035},{"c":17,"a":2,"x":31,"s":-0.022},{"c":17,"a":2,"x":97.5,"s":-0.022},
{"c":17,"x":0.5,"v":-0.03},{"c":17,"x":1.5,"v":-0.08},{"c":17,"x":2.5,"v":0.02},{"c":17,"x":3.5,"v":-0.05},{"c":17,"x":4,"v":0.15},{"c":17,"x":5,"v":-0.1},{"c":17,"x":6,"v":-0.02},{"c":17,"x":7,"v":0.01},{"c":17,"x":8,"v":-0.06},{"c":17,"x":9,"v":-0.03},{"c":17,"x":10,"v":-0.09},{"c":17,"x":11,"v":0.0},{"c":17,"x":12,"v":-0.04},{"c":17,"x":13,"v":-0.07},{"c":17,"x":14,"v":0.05},{"c":17,"x":15,"v":-0.02},{"c":17,"x":16,"v":-0.05},{"c":17,"x":17,"v":0.01},{"c":17,"x":18,"v":-0.08},{"c":17,"x":19,"v":-0.03},{"c":17,"x":20,"v":0.02},{"c":17,"x":21,"v":-0.06},{"c":17,"x":22,"v":-0.01},{"c":17,"x":23,"v":-0.04},{"c":17,"x":24,"v":0.03},{"c":17,"x":25,"v":-0.07},{"c":17,"x":26,"v":-0.02},{"c":17,"x":27,"v":0.04},{"c":17,"x":28,"v":-0.05},{"c":17,"x":29,"v":-0.02},
{"c":17,"x":31,"v":-0.06},{"c":17,"x":32,"v":0.01},{"c":17,"x":33,"v":-0.11},{"c":17,"x":34,"v":-0.04},{"c":17,"x":35,"v":0.02},{"c":17,"x":36,"v":-0.07},{"c":17,"x":37,"v":-0.02},{"c":17,"x":38,"v":0.03},{"c":17,"x":39,"v":-0.09},{"c":17,"x":40,"v":-0.01},{"c":17,"x":41.4,"v":0.14},{"c":17,"x":42.5,"v":-0.05},{"c":17,"x":44,"v":0.21},{"c":17,"x":45,"v":-0.13},{"c":17,"x":46,"v":0.02},{"c":17,"x":47,"v":-0.08},{"c":17,"x":48,"v":-0.13},{"c":17,"x":49,"v":0.05},{"c":17,"x":50,"v":-0.03},{"c":17,"x":51.7,"v":-0.19},{"c":17,"x":52.5,"v":0.06},{"c":17,"x":53.5,"v":-0.04},{"c":17,"x":54.5,"v":0.01},{"c":17,"x":55.5,"v":-0.07},{"c":17,"x":56.5,"v":0.03},{"c":17,"x":57.5,"v":-0.02},{"c":17,"x":58.5,"v":0.11},{"c":17,"x":59.5,"v":-0.05},{"c":17,"x":60.5,"v":0.02},{"c":17,"x":61.5,"v":0.09},{"c":17,"x":62.5,"v":-0.03},{"c":17,"x":63.5,"v":0.05},{"c":17,"x":64.5,"v":-0.06},{"c":17,"x":65.5,"v":0.01},{"c":17,"x":66.5,"v":0.1},{"c":17,"x":67.5,"v":-0.02},{"c":17,"x":68.5,"v":0.04},{"c":17,"x":69.5,"v":-0.04},{"c":17,"x":70.5,"v":0.07},{"c":17,"x":71.5,"v":0.0},{"c":17,"x":72.5,"v":-0.07},{"c":17,"x":73.5,"v":0.03},{"c":17,"x":74.5,"v":0.08},{"c":17,"x":75.5,"v":-0.01},{"c":17,"x":76.5,"v":0.04},{"c":17,"x":77.5,"v":0.06},{"c":17,"x":78.5,"v":-0.04},{"c":17,"x":79.5,"v":0.02},{"c":17,"x":80.5,"v":-0.06},{"c":17,"x":81.5,"v":0.01},{"c":17,"x":82.5,"v":-0.03},{"c":17,"x":83.5,"v":0.04},{"c":17,"x":84.5,"v":-0.08},{"c":17,"x":85.5,"v":0.0},{"c":17,"x":86.5,"v":-0.05},{"c":17,"x":87.5,"v":0.03},{"c":17,"x":88.5,"v":-0.02},{"c":17,"x":89.5,"v":-0.07},{"c":17,"x":90.5,"v":0.02},{"c":17,"x":92,"v":-0.19},{"c":17,"x":93,"v":-0.04},{"c":17,"x":94,"v":0.01},{"c":17,"x":95,"v":-0.06},{"c":17,"x":96,"v":0.15},{"c":17,"x":97,"v":-0.08},{"c":17,"x":97.5,"v":-0.03},
{"c":18,"x":0,"x2":100,"t":"w"},{"c":18,"x":3.3,"x2":9,"t":"m"},{"c":18,"x":12.5,"x2":14,"t":"k"},{"c":18,"x":16.5,"x2":18,"t":"k"},{"c":18,"x":21.6,"x2":23.9,"t":"y"},{"c":18,"x":31.9,"x2":46.8,"t":"k"},{"c":18,"x":46.8,"x2":54.8,"t":"d"},{"c":18,"x":61.7,"x2":68.6,"t":"d"},{"c":18,"x":72,"x2":75.5,"t":"m"},{"c":18,"x":78.5,"x2":85.9,"t":"k"},{"c":18,"x":89.5,"x2":96.4,"t":"l"},
{"c":18,"a":1,"x":0,"s":0.33},{"c":18,"a":1,"x":20,"s":0.33},{"c":18,"a":2,"x":23.2,"s":0.365},{"c":18,"a":2,"x":75.5,"s":0.0},{"c":18,"a":2,"x":100,"s":0.0},
{"c":18,"x":0.5,"v":0.42},{"c":18,"x":1,"v":0.485},{"c":18,"x":2,"v":0.3},{"c":18,"x":3,"v":0.36},{"c":18,"x":4,"v":0.147},{"c":18,"x":5,"v":0.265},{"c":18,"x":6,"v":0.4},{"c":18,"x":6.5,"v":0.13},{"c":18,"x":7.5,"v":0.33},{"c":18,"x":8.5,"v":0.38},{"c":18,"x":9.5,"v":0.27},{"c":18,"x":11,"v":0.2},{"c":18,"x":12,"v":0.35},{"c":18,"x":13,"v":0.39},{"c":18,"x":14,"v":0.31},{"c":18,"x":15,"v":0.36},{"c":18,"x":16,"v":0.19},{"c":18,"x":17,"v":0.41},{"c":18,"x":18,"v":0.33},{"c":18,"x":19,"v":0.29},
{"c":18,"x":24,"v":0.36},{"c":18,"x":25,"v":0.4},{"c":18,"x":26,"v":0.16},{"c":18,"x":27,"v":0.38},{"c":18,"x":28,"v":0.33},{"c":18,"x":29,"v":0.42},{"c":18,"x":30,"v":0.35},{"c":18,"x":31,"v":0.39},{"c":18,"x":32,"v":0.31},{"c":18,"x":33,"v":0.37},{"c":18,"x":34,"v":0.41},{"c":18,"x":35,"v":0.34},{"c":18,"x":36,"v":0.38},{"c":18,"x":37,"v":0.43},{"c":18,"x":38,"v":0.32},{"c":18,"x":39,"v":0.36},{"c":18,"x":40,"v":0.4},{"c":18,"x":41,"v":0.35},{"c":18,"x":42,"v":0.39},{"c":18,"x":43,"v":0.2},{"c":18,"x":44,"v":0.37},{"c":18,"x":45.5,"v":0.485},{"c":18,"x":46.5,"v":0.38},{"c":18,"x":47.5,"v":0.33},{"c":18,"x":48.5,"v":0.41},{"c":18,"x":49.5,"v":0.36},{"c":18,"x":50.5,"v":0.31},{"c":18,"x":51.5,"v":0.39},{"c":18,"x":52.5,"v":0.44},{"c":18,"x":53.5,"v":0.35},{"c":18,"x":54.5,"v":0.38},{"c":18,"x":55.5,"v":0.42},{"c":18,"x":56.5,"v":0.33},{"c":18,"x":57.5,"v":0.37},{"c":18,"x":58.5,"v":0.4},{"c":18,"x":59.4,"v":0.237},{"c":18,"x":60.5,"v":0.36},{"c":18,"x":61.5,"v":0.39},{"c":18,"x":62.5,"v":0.34},{"c":18,"x":63.5,"v":0.41},{"c":18,"x":64.5,"v":0.37},{"c":18,"x":65.5,"v":0.32},{"c":18,"x":67,"v":0.46},{"c":18,"x":68,"v":0.38},{"c":18,"x":69,"v":0.35},{"c":18,"x":70,"v":0.43},{"c":18,"x":71,"v":0.37},{"c":18,"x":72,"v":0.4},{"c":18,"x":73,"v":0.34},{"c":18,"x":74,"v":0.39},
{"c":18,"x":76.5,"v":0.05},{"c":18,"x":77.5,"v":-0.02},{"c":18,"x":79,"v":0.03},{"c":18,"x":80.5,"v":-0.05},{"c":18,"x":82,"v":0.01},{"c":18,"x":83.5,"v":0.06},{"c":18,"x":85,"v":-0.03},{"c":18,"x":86.5,"v":0.08},{"c":18,"x":88,"v":0.02},{"c":18,"x":89.5,"v":-0.04},{"c":18,"x":91,"v":-0.085},{"c":18,"x":92,"v":0.04},{"c":18,"x":93,"v":-0.02},{"c":18,"x":94,"v":0.1},{"c":18,"x":95,"v":0.01},{"c":18,"x":96,"v":-0.05},{"c":18,"x":97,"v":0.093},{"c":18,"x":98,"v":-0.03},{"c":18,"x":99,"v":0.02},
{"c":19,"x":0,"x2":100,"t":"w"},{"c":19,"x":11.7,"x2":23.9,"t":"l"},{"c":19,"x":27.4,"x2":32,"t":"l"},{"c":19,"x":34.7,"x2":41.8,"t":"h"},{"c":19,"x":41.8,"x2":47.6,"t":"y"},{"c":19,"x":47.6,"x2":54.3,"t":"h"},{"c":19,"x":59.5,"x2":65.3,"t":"l"},{"c":19,"x":65.3,"x2":73.3,"t":"l"},{"c":19,"x":75.6,"x2":81.4,"t":"l"},{"c":19,"x":87.1,"x2":91.7,"t":"l"},{"c":19,"x":95.2,"x2":100,"t":"l"},
{"c":19,"a":1,"x":0,"s":-0.002},{"c":19,"a":1,"x":40.3,"s":-0.002},{"c":19,"a":2,"x":55,"s":-0.033},{"c":19,"a":2,"x":100,"s":-0.033},
{"c":19,"x":1,"v":0.01},{"c":19,"x":3,"v":-0.03},{"c":19,"x":4.8,"v":-0.09},{"c":19,"x":6.5,"v":0.02},{"c":19,"x":8.5,"v":-0.05},{"c":19,"x":10,"v":0.04},{"c":19,"x":12,"v":0.22},{"c":19,"x":13.5,"v":-0.02},{"c":19,"x":15,"v":0.06},{"c":19,"x":17,"v":-0.04},{"c":19,"x":19,"v":0.03},{"c":19,"x":21.5,"v":0.16},{"c":19,"x":23,"v":-0.06},{"c":19,"x":25,"v":0.01},{"c":19,"x":27,"v":-0.145},{"c":19,"x":29,"v":0.04},{"c":19,"x":31,"v":-0.03},{"c":19,"x":33,"v":0.12},{"c":19,"x":35,"v":0.0},{"c":19,"x":37,"v":-0.06},{"c":19,"x":38.5,"v":0.05},{"c":19,"x":40,"v":0.09},
{"c":19,"x":56,"v":-0.02},{"c":19,"x":57,"v":-0.06},{"c":19,"x":59,"v":0.17},{"c":19,"x":60.5,"v":-0.09},{"c":19,"x":62,"v":-0.03},{"c":19,"x":64,"v":-0.1},{"c":19,"x":66,"v":-0.05},{"c":19,"x":68,"v":0.01},{"c":19,"x":70,"v":-0.08},{"c":19,"x":72,"v":-0.04},{"c":19,"x":74,"v":-0.11},{"c":19,"x":75.5,"v":0.02},{"c":19,"x":77.6,"v":0.105},{"c":19,"x":79,"v":-0.06},{"c":19,"x":81,"v":-0.1},{"c":19,"x":82.5,"v":-0.03},{"c":19,"x":83.7,"v":0.07},{"c":19,"x":85,"v":-0.07},{"c":19,"x":86.5,"v":0.0},{"c":19,"x":88,"v":-0.05},{"c":19,"x":89.5,"v":0.04},{"c":19,"x":91,"v":-0.08},{"c":19,"x":92.5,"v":-0.02},{"c":19,"x":94,"v":0.06},{"c":19,"x":95.5,"v":-0.04},{"c":19,"x":97,"v":0.02},{"c":19,"x":98.5,"v":-0.07},{"c":19,"x":99.5,"v":-0.03},
{"c":19,"x":99.8,"o":-0.12},
{"c":20,"x":0,"x2":100,"t":"w"},{"c":20,"x":7.6,"x2":12.6,"t":"d"},{"c":20,"x":18.3,"x2":27.5,"t":"d"},{"c":20,"x":31,"x2":33,"t":"l"},{"c":20,"x":40.8,"x2":45.4,"t":"y"},{"c":20,"x":49,"x2":51.5,"t":"l"},{"c":20,"x":53,"x2":55,"t":"m"},{"c":20,"x":59.6,"x2":66.5,"t":"d"},{"c":20,"x":66.5,"x2":73.4,"t":"l"},{"c":20,"x":79,"x2":87,"t":"d"},{"c":20,"x":92.9,"x2":97.5,"t":"m"},
{"c":20,"a":1,"x":0,"s":-0.018},{"c":20,"a":1,"x":41.5,"s":-0.018},{"c":20,"a":2,"x":44.5,"s":-0.04},{"c":20,"a":2,"x":100,"s":-0.04},
{"c":20,"x":0.5,"v":0.02},{"c":20,"x":1,"v":0.115},{"c":20,"x":2.5,"v":-0.04},{"c":20,"x":3.5,"v":0.01},{"c":20,"x":5,"v":-0.1},{"c":20,"x":6,"v":-0.1},{"c":20,"x":7.5,"v":-0.02},{"c":20,"x":9,"v":0.03},{"c":20,"x":10.5,"v":-0.05},{"c":20,"x":12,"v":0.0},{"c":20,"x":13.5,"v":-0.04},{"c":20,"x":15,"v":0.02},{"c":20,"x":16.5,"v":-0.06},{"c":20,"x":18,"v":0.01},{"c":20,"x":19,"v":-0.13},{"c":20,"x":20.5,"v":-0.03},{"c":20,"x":22,"v":0.04},{"c":20,"x":23.5,"v":-0.05},{"c":20,"x":25,"v":0.07},{"c":20,"x":26.5,"v":-0.02},{"c":20,"x":28,"v":0.0},{"c":20,"x":29.5,"v":-0.08},{"c":20,"x":31,"v":0.04},{"c":20,"x":32.5,"v":-0.03},{"c":20,"x":34,"v":0.02},{"c":20,"x":35.5,"v":-0.05},{"c":20,"x":37,"v":0.01},{"c":20,"x":38.5,"v":-0.04},{"c":20,"x":40,"v":0.115},
{"c":20,"x":45,"v":-0.04},{"c":20,"x":46,"v":-0.08},{"c":20,"x":47,"v":-0.02},{"c":20,"x":48.4,"v":-0.115},{"c":20,"x":49.5,"v":-0.06},{"c":20,"x":50.5,"v":0.02},{"c":20,"x":51.5,"v":0.0},{"c":20,"x":52.5,"v":-0.05},{"c":20,"x":53.5,"v":-0.09},{"c":20,"x":54.5,"v":0.02},{"c":20,"x":55.5,"v":-0.03},{"c":20,"x":56.5,"v":0.02},{"c":20,"x":57.5,"v":-0.07},{"c":20,"x":58.5,"v":0.01},{"c":20,"x":59.5,"v":-0.04},{"c":20,"x":60.5,"v":-0.01},{"c":20,"x":61.5,"v":-0.06},{"c":20,"x":62.5,"v":0.01},{"c":20,"x":63.5,"v":-0.08},{"c":20,"x":64.5,"v":-0.03},{"c":20,"x":65.5,"v":0.0},{"c":20,"x":66.5,"v":-0.05},{"c":20,"x":67.5,"v":-0.02},{"c":20,"x":68.5,"v":-0.07},{"c":20,"x":69.5,"v":0.01},{"c":20,"x":70.5,"v":-0.04},{"c":20,"x":71.5,"v":-0.06},{"c":20,"x":72.5,"v":-0.01},{"c":20,"x":73.5,"v":-0.08},{"c":20,"x":74.5,"v":-0.03},{"c":20,"x":75.5,"v":0.01},{"c":20,"x":76.5,"v":-0.05},{"c":20,"x":77.5,"v":-0.02},{"c":20,"x":78.5,"v":-0.07},{"c":20,"x":79.5,"v":0.0},{"c":20,"x":80.5,"v":-0.04},{"c":20,"x":81.5,"v":-0.06},{"c":20,"x":83,"v":0.13},{"c":20,"x":84,"v":-0.03},{"c":20,"x":85,"v":-0.07},{"c":20,"x":86,"v":0.01},{"c":20,"x":87,"v":-0.04},{"c":20,"x":88,"v":-0.02},{"c":20,"x":89,"v":-0.06},{"c":20,"x":90,"v":0.0},{"c":20,"x":91,"v":-0.05},{"c":20,"x":92,"v":-0.03},{"c":20,"x":93,"v":-0.08},{"c":20,"x":94,"v":0.01},{"c":20,"x":95,"v":-0.115},{"c":20,"x":96,"v":-0.04},{"c":20,"x":97.5,"v":0.14},{"c":20,"x":98.5,"v":-0.1},{"c":20,"x":99.5,"v":-0.05},
{"c":21,"x":0,"x2":100,"t":"w"},{"c":21,"x":0,"x2":5.5,"t":"h"},{"c":21,"x":5.5,"x2":13.6,"t":"s"},{"c":21,"x":13.6,"x2":22.8,"t":"h"},{"c":21,"x":22.8,"x2":27.4,"t":"y"},{"c":21,"x":34.3,"x2":50,"t":"k"},{"c":21,"x":55.5,"x2":65.4,"t":"d"},{"c":21,"x":74,"x2":78.6,"t":"m"},{"c":21,"x":82.7,"x2":88.5,"t":"m"},
{"c":21,"a":1,"x":27.7,"s":0.012},{"c":21,"a":1,"x":98,"s":0.012},
{"c":21,"x":28,"v":0.074},{"c":21,"x":29,"v":0.0},{"c":21,"x":30.4,"v":0.14},{"c":21,"x":31.5,"v":-0.02},{"c":21,"x":33,"v":0.03},{"c":21,"x":33.9,"v":0.107},{"c":21,"x":35,"v":-0.03},{"c":21,"x":36.5,"v":0.01},{"c":21,"x":38,"v":0.05},{"c":21,"x":39,"v":0.06},{"c":21,"x":40.5,"v":0.0},{"c":21,"x":42,"v":-0.02},{"c":21,"x":44,"v":0.04},{"c":21,"x":46,"v":0.01},{"c":21,"x":48,"v":0.06},{"c":21,"x":50,"v":-0.01},{"c":21,"x":52,"v":0.02},{"c":21,"x":53.5,"v":0.0},{"c":21,"x":55.6,"v":0.197},{"c":21,"x":57,"v":0.01},{"c":21,"x":59,"v":-0.01},{"c":21,"x":61,"v":0.02},{"c":21,"x":63,"v":0.0},{"c":21,"x":65,"v":0.03},{"c":21,"x":67,"v":-0.01},{"c":21,"x":69,"v":0.02},{"c":21,"x":72.3,"v":-0.1},{"c":21,"x":74,"v":-0.03},{"c":21,"x":76,"v":0.01},{"c":21,"x":78,"v":-0.04},{"c":21,"x":80.3,"v":-0.088},{"c":21,"x":82,"v":0.02},{"c":21,"x":84,"v":0.0},{"c":21,"x":86,"v":0.05},{"c":21,"x":88,"v":0.03},{"c":21,"x":90,"v":-0.01},{"c":21,"x":92.7,"v":0.155},{"c":21,"x":93,"v":-0.085},{"c":21,"x":95,"v":0.01},{"c":21,"x":97,"v":-0.085},{"c":21,"x":97.5,"v":0.06},
{"c":22,"x":0,"x2":100,"t":"w"},{"c":22,"x":0,"x2":6.9,"t":"h"},{"c":22,"x":6.9,"x2":16.2,"t":"s"},{"c":22,"x":16.2,"x2":23.8,"t":"h"},{"c":22,"x":23.8,"x2":28,"t":"y"},{"c":22,"x":28,"x2":34.6,"t":"y"},{"c":22,"x":42.7,"x2":43.9,"t":"m"},{"c":22,"x":50.8,"x2":57.7,"t":"m"},{"c":22,"x":63.5,"x2":73.9,"t":"m"},{"c":22,"x":79.7,"x2":85.5,"t":"m"},{"c":22,"x":93.5,"x2":98.2,"t":"m"},
{"c":22,"a":1,"x":31.7,"s":-0.02},{"c":22,"a":1,"x":97,"s":-0.02},
{"c":22,"x":32.6,"v":0.074},{"c":22,"x":33.5,"v":0.0},{"c":22,"x":34.5,"v":-0.03},{"c":22,"x":36,"v":-0.01},{"c":22,"x":38,"v":0.02},{"c":22,"x":40,"v":-0.02},{"c":22,"x":42,"v":0.05},{"c":22,"x":44,"v":0.04},{"c":22,"x":46,"v":-0.01},{"c":22,"x":48,"v":0.0},{"c":22,"x":50,"v":-0.02},{"c":22,"x":52,"v":0.03},{"c":22,"x":54,"v":0.0},{"c":22,"x":56.3,"v":0.114},{"c":22,"x":58,"v":-0.02},{"c":22,"x":60,"v":-0.07},{"c":22,"x":61.5,"v":-0.05},{"c":22,"x":63,"v":-0.09},{"c":22,"x":64.8,"v":-0.088},{"c":22,"x":66,"v":-0.04},{"c":22,"x":68,"v":-0.06},{"c":22,"x":70,"v":-0.03},{"c":22,"x":71.5,"v":-0.05},{"c":22,"x":73,"v":-0.08},{"c":22,"x":75,"v":-0.04},{"c":22,"x":76.5,"v":0.06},{"c":22,"x":77.5,"v":0.16},{"c":22,"x":78,"v":-0.126},{"c":22,"x":79,"v":-0.01},{"c":22,"x":81,"v":-0.05},{"c":22,"x":83,"v":-0.02},{"c":22,"x":85,"v":-0.07},{"c":22,"x":87,"v":0.0},{"c":22,"x":89,"v":-0.05},{"c":22,"x":91,"v":-0.04},{"c":22,"x":93,"v":0.03},{"c":22,"x":94,"v":-0.165},{"c":22,"x":95.5,"v":0.01},{"c":22,"x":96.5,"v":0.02},
{"c":23,"x":0,"x2":100,"t":"w"},{"c":23,"x":1.7,"x2":3.1,"t":"k"},{"c":23,"x":5.8,"x2":10.4,"t":"m"},{"c":23,"x":10.4,"x2":12.5,"t":"k"},{"c":23,"x":14.6,"x2":15.6,"t":"k"},{"c":23,"x":18.8,"x2":24.3,"t":"k"},{"c":23,"x":27,"x2":30,"t":"k"},{"c":23,"x":32.7,"x2":35.4,"t":"k"},{"c":23,"x":35.4,"x2":38.2,"t":"m"},{"c":23,"x":38.2,"x2":39.6,"t":"y"},{"c":23,"x":39.6,"x2":43,"t":"k"},{"c":23,"x":46.5,"x2":54,"t":"k"},{"c":23,"x":56,"x2":59.4,"t":"k"},{"c":23,"x":59.4,"x2":63,"t":"d"},{"c":23,"x":66.7,"x2":70.8,"t":"k"},{"c":23,"x":70.8,"x2":75,"t":"d"},{"c":23,"x":75,"x2":83.3,"t":"k"},{"c":23,"x":85.4,"x2":88.9,"t":"m"},{"c":23,"x":89,"x2":92.5,"t":"k"},
{"c":23,"a":1,"x":1.4,"s":0.378},{"c":23,"a":1,"x":38,"s":0.378},{"c":23,"a":2,"x":39,"s":0.387},{"c":23,"a":2,"x":99.7,"s":0.387},
{"c":23,"x":0.5,"v":0.34},{"c":23,"x":1.5,"v":0.36},{"c":23,"x":2.5,"v":0.33},{"c":23,"x":3.2,"v":0.29},{"c":23,"x":4,"v":0.38},{"c":23,"x":5,"v":0.4},{"c":23,"x":6,"v":0.43},{"c":23,"x":7,"v":0.37},{"c":23,"x":8,"v":0.41},{"c":23,"x":9,"v":0.39},{"c":23,"x":10,"v":0.36},{"c":23,"x":11,"v":0.34},{"c":23,"x":12.4,"v":0.275},{"c":23,"x":13,"v":0.44},{"c":23,"x":14,"v":0.38},{"c":23,"x":15,"v":0.42},{"c":23,"x":16,"v":0.35},{"c":23,"x":17,"v":0.4},{"c":23,"x":18,"v":0.37},{"c":23,"x":18.8,"v":0.48},{"c":23,"x":19.5,"v":0.33},{"c":23,"x":20.5,"v":0.41},{"c":23,"x":21.5,"v":0.38},{"c":23,"x":22.5,"v":0.36},{"c":23,"x":23.5,"v":0.4},{"c":23,"x":24.5,"v":0.34},{"c":23,"x":25.5,"v":0.39},{"c":23,"x":26.5,"v":0.37},{"c":23,"x":27.5,"v":0.41},{"c":23,"x":28.5,"v":0.35},{"c":23,"x":29.5,"v":0.38},{"c":23,"x":30.5,"v":0.32},{"c":23,"x":31.5,"v":0.4},{"c":23,"x":32.5,"v":0.36},{"c":23,"x":33.5,"v":0.39},{"c":23,"x":34.5,"v":0.37},{"c":23,"x":35.5,"v":0.44},{"c":23,"x":36.5,"v":0.3},{"c":23,"x":37.5,"v":0.35},
{"c":23,"x":40,"v":0.38},{"c":23,"x":40.7,"v":0.29},{"c":23,"x":41.5,"v":0.33},{"c":23,"x":42.5,"v":0.4},{"c":23,"x":43.5,"v":0.31},{"c":23,"x":44.5,"v":0.36},{"c":23,"x":45.5,"v":0.38},{"c":23,"x":46.5,"v":0.34},{"c":23,"x":47.5,"v":0.41},{"c":23,"x":48.5,"v":0.37},{"c":23,"x":50,"v":0.42},{"c":23,"x":51,"v":0.36},{"c":23,"x":52,"v":0.4},{"c":23,"x":53,"v":0.38},{"c":23,"x":54,"v":0.43},{"c":23,"x":55,"v":0.37},{"c":23,"x":56,"v":0.41},{"c":23,"x":57,"v":0.45},{"c":23,"x":58,"v":0.47},{"c":23,"x":59,"v":0.39},{"c":23,"x":60,"v":0.36},{"c":23,"x":61,"v":0.4},{"c":23,"x":62,"v":0.38},{"c":23,"x":63,"v":0.34},{"c":23,"x":64,"v":0.41},{"c":23,"x":65,"v":0.37},{"c":23,"x":66,"v":0.39},{"c":23,"x":67,"v":0.35},{"c":23,"x":68,"v":0.4},{"c":23,"x":69,"v":0.33},{"c":23,"x":70,"v":0.38},{"c":23,"x":71,"v":0.41},{"c":23,"x":72,"v":0.36},{"c":23,"x":73,"v":0.39},{"c":23,"x":74,"v":0.34},{"c":23,"x":75,"v":0.37},{"c":23,"x":76,"v":0.4},{"c":23,"x":77,"v":0.35},{"c":23,"x":78,"v":0.42},{"c":23,"x":79,"v":0.37},{"c":23,"x":80,"v":0.39},{"c":23,"x":81,"v":0.44},{"c":23,"x":82,"v":0.36},{"c":23,"x":83,"v":0.4},{"c":23,"x":84,"v":0.48},{"c":23,"x":85,"v":0.38},{"c":23,"x":86,"v":0.35},{"c":23,"x":87,"v":0.41},{"c":23,"x":88,"v":0.37},{"c":23,"x":89,"v":0.43},{"c":23,"x":90,"v":0.36},{"c":23,"x":91,"v":0.4},{"c":23,"x":92,"v":0.45},{"c":23,"x":93,"v":0.34},{"c":23,"x":94,"v":0.39},{"c":23,"x":95,"v":0.42},{"c":23,"x":96,"v":0.37},{"c":23,"x":97,"v":0.41},{"c":23,"x":98,"v":0.29},{"c":23,"x":99,"v":0.33},{"c":23,"x":99.5,"v":0.39},
{"c":23,"x":50,"o":0.49}
]},
"facet":{"field":"c","type":"ordinal","title":null,"header":{"labelExpr":"'Chromosome ' + datum.value"}},
"columns":5,
"spacing":{"row":100,"column":103.7},
"bounds":"flush",
"resolve":{"axis":{"y":"independent"}},
"spec":{
"width":242,"height":161,
"layer":[
{"transform":[{"filter":"datum.t == 'w'"}],"mark":{"type":"rect","fill":"white","stroke":"black","strokeWidth":1.5,"cornerRadius":4},
 "encoding":{"x":{"field":"x","type":"quantitative","scale":{"domain":[0,100],"nice":false,"zero":false},"axis":null},"x2":{"field":"x2"},
 "y":{"datum":-0.305,"type":"quantitative","scale":{"domain":[-0.27,0.523],"nice":false,"zero":false}},"y2":{"datum":-0.418}}},
{"transform":[{"filter":"isValid(datum.t) && datum.t != 'w'"}],"mark":{"type":"rect","stroke":"black","strokeWidth":0.8},
 "encoding":{"x":{"field":"x","type":"quantitative","scale":{"domain":[0,100],"nice":false,"zero":false},"axis":null},"x2":{"field":"x2"},
 "y":{"datum":-0.305,"type":"quantitative","scale":{"domain":[-0.27,0.523],"nice":false,"zero":false}},"y2":{"datum":-0.418},
 "color":{"field":"t","type":"nominal","legend":null,"scale":{"domain":["w","l","m","d","k","y","h","s"],"range":["#ffffff","#c8c8c8","#808080","#404040","#000000","#ffff00","#ffffff","#e6e6e6"]}}}},
{"transform":[{"filter":"datum.t == 'h'"}],"mark":{"type":"rule","color":"#b0b0b0","strokeWidth":1.2},
 "encoding":{"x":{"field":"x","type":"quantitative","scale":{"domain":[0,100],"nice":false,"zero":false},"axis":null},"x2":{"field":"x2"},
 "y":{"datum":-0.418,"type":"quantitative","scale":{"domain":[-0.27,0.523],"nice":false,"zero":false}},"y2":{"datum":-0.305}}},
{"transform":[{"filter":"datum.t == 'w'"}],"mark":{"type":"rule","color":"#bebebe","strokeWidth":2.5,"strokeDash":[15,8]},
 "encoding":{"y":{"datum":0,"type":"quantitative","scale":{"domain":[-0.27,0.523],"nice":false,"zero":false}}}},
{"transform":[{"filter":"isValid(datum.v)"}],"mark":{"type":"point","shape":"square","filled":true,"size":22,"color":"#bebebe","opacity":1},
 "encoding":{"x":{"field":"x","type":"quantitative","scale":{"domain":[0,100],"nice":false,"zero":false},"axis":null},
 "y":{"field":"v","type":"quantitative","title":"Log R","scale":{"domain":[-0.27,0.523],"nice":false,"zero":false}}}},
{"transform":[{"filter":"isValid(datum.o)"}],"mark":{"type":"point","clip":true,"shape":"M0,-1L0,1M-1,0L1,0M-0.7,-0.7L0.7,0.7M-0.7,0.7L0.7,-0.7","filled":false,"size":196,"stroke":"#bebebe","strokeWidth":1.3,"opacity":1},
 "encoding":{"x":{"field":"x","type":"quantitative","scale":{"domain":[0,100],"nice":false,"zero":false},"axis":null},
 "y":{"field":"o","type":"quantitative","title":"Log R","scale":{"domain":[-0.27,0.523],"nice":false,"zero":false}}}},
{"transform":[{"filter":"isValid(datum.s)"}],"mark":{"type":"line","interpolate":"step-after","color":"#ff0000","strokeWidth":5,"strokeJoin":"miter","strokeCap":"butt"},
 "encoding":{"x":{"field":"x","type":"quantitative","scale":{"domain":[0,100],"nice":false,"zero":false},"axis":null},
 "y":{"field":"s","type":"quantitative","title":"Log R","scale":{"domain":[-0.27,0.523],"nice":false,"zero":false}},
 "detail":{"field":"a","type":"nominal"}}}
]},
"config":{
"font":"DejaVu Sans",
"view":{"stroke":"black","strokeWidth":2},
"axisY":{"values":[-0.2,0,0.2,0.4],"labelExpr":"datum.value < 0 ? '-' + format(-datum.value, '.1f') : format(datum.value, '.1f')","labelFont":"DejaVu Sans","labelFontSize":15,"labelColor":"black","tickColor":"black","tickSize":7,"tickWidth":1.5,"labelPadding":3,"domain":false,"grid":false,"title":"Log R","titleFont":"DejaVu Sans","titleFontSize":18,"titleFontWeight":"normal","titleColor":"black","titlePadding":14.5},
"header":{"labelFont":"DejaVu Sans","labelFontWeight":"bold","labelFontSize":21.5,"labelColor":"black","labelPadding":12}
}
}
